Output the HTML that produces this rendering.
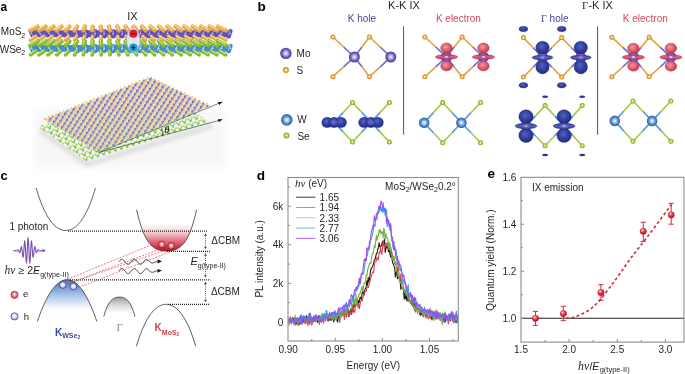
<!DOCTYPE html>
<html><head><meta charset="utf-8"><style>
html,body{margin:0;padding:0;background:#fff;}
svg{display:block;will-change:transform;}

</style></head><body>
<svg width="685" height="374" viewBox="0 0 685 374" font-family="Liberation Sans, sans-serif">
<rect width="685" height="374" fill="#fff"/>

<defs>
<clipPath id="clipd"><rect x="288.5" y="178" width="169.5" height="162.5"/></clipPath>
<clipPath id="clipcb"><rect x="130" y="222" width="80" height="40"/></clipPath>
<filter id="blurS" x="-20%" y="-50%" width="140%" height="200%"><feGaussianBlur stdDeviation="2"/></filter>
<filter id="blurB" x="-20%" y="-30%" width="140%" height="160%"><feGaussianBlur stdDeviation="3"/></filter>
<pattern id="patT" patternUnits="userSpaceOnUse" width="4.2" height="4.8" patternTransform="rotate(-57 100 110)">
<rect width="4.2" height="4.8" fill="#f8f4ec"/>
<line x1="0" y1="1.2" x2="4.2" y2="1.2" stroke="#6e60c6" stroke-width="0.95"/>
<circle cx="2.1" cy="1.2" r="1.15" fill="#6252bc"/>
<circle cx="2.0" cy="1.1" r="0.35" fill="#a49ae2"/>
<circle cx="0.4" cy="3.3" r="0.9" fill="#f0bb4c"/>
<circle cx="2.9" cy="3.6" r="0.85" fill="#f2c25c"/>
<line x1="0.4" y1="3.3" x2="2.1" y2="1.2" stroke="#e4c48c" stroke-width="0.45"/>
<circle cx="1.65" cy="2.95" r="0.45" fill="#9ccb44"/>
<circle cx="3.9" cy="2.7" r="0.4" fill="#6aaee0"/>
</pattern>
<pattern id="patB" patternUnits="userSpaceOnUse" width="6.2" height="5.2" patternTransform="rotate(-18 100 130)">
<rect width="6.2" height="5.2" fill="#f2f8e8"/>
<path d="M1.0,1.0 L3.1,3.9 L5.2,1.0" fill="none" stroke="#98c83a" stroke-width="1.15"/>
<circle cx="3.1" cy="3.9" r="0.9" fill="#4c9ad8"/>
<circle cx="1.0" cy="1.0" r="0.75" fill="#a4d040"/>
<circle cx="5.2" cy="1.0" r="0.75" fill="#a4d040"/>
</pattern>
<linearGradient id="gTint" x1="0" y1="0" x2="0" y2="1"><stop offset="0.35" stop-color="#b0d890" stop-opacity="0"/><stop offset="1" stop-color="#a8d080" stop-opacity="0.2"/></linearGradient>
</defs>


<defs>
<radialGradient id="gMo" cx="50%" cy="50%" r="50%"><stop offset="0" stop-color="#ffffff"/><stop offset="0.28" stop-color="#c8bdf0"/><stop offset="0.65" stop-color="#7a62c4"/><stop offset="1" stop-color="#4c3a98"/></radialGradient>
<radialGradient id="gS" cx="50%" cy="50%" r="50%"><stop offset="0" stop-color="#fffaf0"/><stop offset="0.25" stop-color="#fad89a"/><stop offset="0.6" stop-color="#eaa83c"/><stop offset="1" stop-color="#c88018"/></radialGradient>
<radialGradient id="gW" cx="50%" cy="50%" r="50%"><stop offset="0" stop-color="#ffffff"/><stop offset="0.28" stop-color="#b9d4f4"/><stop offset="0.65" stop-color="#4f8ad0"/><stop offset="1" stop-color="#2d5fa0"/></radialGradient>
<radialGradient id="gSe" cx="50%" cy="50%" r="50%"><stop offset="0" stop-color="#fbfff0"/><stop offset="0.25" stop-color="#d8ec9a"/><stop offset="0.6" stop-color="#a4c83c"/><stop offset="1" stop-color="#7ca018"/></radialGradient>
<radialGradient id="gRed" cx="42%" cy="40%" r="62%"><stop offset="0" stop-color="#f39aa4"/><stop offset="0.55" stop-color="#de606e"/><stop offset="1" stop-color="#c03848"/></radialGradient>
<linearGradient id="gRing" x1="0" y1="0" x2="0" y2="1"><stop offset="0" stop-color="#c03650"/><stop offset="0.5" stop-color="#de6880"/><stop offset="1" stop-color="#a82840"/></linearGradient>
<radialGradient id="gBlue" cx="45%" cy="40%" r="60%"><stop offset="0" stop-color="#5563c0"/><stop offset="0.55" stop-color="#323fa0"/><stop offset="1" stop-color="#222c80"/></radialGradient>
<linearGradient id="gBRing" x1="0" y1="0" x2="0" y2="1"><stop offset="0" stop-color="#2a3590"/><stop offset="0.5" stop-color="#5a62b8"/><stop offset="1" stop-color="#222c80"/></linearGradient>
<radialGradient id="gPtRed" cx="40%" cy="35%" r="65%"><stop offset="0" stop-color="#ffffff"/><stop offset="0.2" stop-color="#f08088"/><stop offset="0.6" stop-color="#d42a38"/><stop offset="1" stop-color="#b01a28"/></radialGradient>
<radialGradient id="gE" cx="50%" cy="45%" r="55%"><stop offset="0" stop-color="#ffffff"/><stop offset="0.3" stop-color="#f9b4bc"/><stop offset="0.75" stop-color="#e85a6a"/><stop offset="1" stop-color="#d43848"/></radialGradient>
<radialGradient id="gH" cx="50%" cy="45%" r="55%"><stop offset="0" stop-color="#ffffff"/><stop offset="0.4" stop-color="#e4e4f8"/><stop offset="1" stop-color="#9a9ad8"/></radialGradient>
<linearGradient id="gCBred" x1="0" y1="224" x2="0" y2="251" gradientUnits="userSpaceOnUse"><stop offset="0" stop-color="#ffffff"/><stop offset="0.3" stop-color="#f4d0d4"/><stop offset="0.62" stop-color="#e07482"/><stop offset="1" stop-color="#c0101e"/></linearGradient>
<linearGradient id="gVBblue" x1="0" y1="280" x2="0" y2="309" gradientUnits="userSpaceOnUse"><stop offset="0" stop-color="#4676c6"/><stop offset="0.5" stop-color="#a4c0e8"/><stop offset="1" stop-color="#ffffff"/></linearGradient>
<linearGradient id="gVBgray" x1="0" y1="297" x2="0" y2="313" gradientUnits="userSpaceOnUse"><stop offset="0" stop-color="#9c9c9c"/><stop offset="0.5" stop-color="#d8d8d8"/><stop offset="1" stop-color="#ffffff"/></linearGradient>
<marker id="ah" markerWidth="6" markerHeight="6" refX="4.5" refY="3" orient="auto" markerUnits="userSpaceOnUse"><path d="M0,1.3 L4.5,3 L0,4.7 z" fill="#222"/></marker>
</defs>

<text transform="translate(0.6,10.5) scale(0.87,1)" font-size="13.6" font-weight="bold" fill="#000">a</text>
<text transform="translate(257.5,10.6) scale(1.0,1)" font-size="13.6" font-weight="bold" fill="#000">b</text>
<text transform="translate(0.4,179.8) scale(0.95,1)" font-size="13.6" font-weight="bold" fill="#000">c</text>
<text transform="translate(256.8,179.5) scale(1.0,1)" font-size="13.6" font-weight="bold" fill="#000">d</text>
<text transform="translate(487.4,177.7) scale(1.0,1)" font-size="13.6" font-weight="bold" fill="#000">e</text>
<line x1="354.40" y1="57.00" x2="343.65" y2="47.00" stroke="#7466c0" stroke-width="1.6"/>
<line x1="343.65" y1="47.00" x2="332.90" y2="37.00" stroke="#e0a245" stroke-width="1.6"/>
<line x1="354.40" y1="57.00" x2="343.65" y2="66.85" stroke="#7466c0" stroke-width="1.6"/>
<line x1="343.65" y1="66.85" x2="332.90" y2="76.70" stroke="#e0a245" stroke-width="1.6"/>
<line x1="354.40" y1="57.00" x2="361.95" y2="47.00" stroke="#7466c0" stroke-width="1.6"/>
<line x1="361.95" y1="47.00" x2="369.50" y2="37.00" stroke="#e0a245" stroke-width="1.6"/>
<line x1="354.40" y1="57.00" x2="361.95" y2="66.85" stroke="#7466c0" stroke-width="1.6"/>
<line x1="361.95" y1="66.85" x2="369.50" y2="76.70" stroke="#e0a245" stroke-width="1.6"/>
<line x1="390.80" y1="57.00" x2="380.15" y2="47.00" stroke="#7466c0" stroke-width="1.6"/>
<line x1="380.15" y1="47.00" x2="369.50" y2="37.00" stroke="#e0a245" stroke-width="1.6"/>
<line x1="390.80" y1="57.00" x2="380.15" y2="66.85" stroke="#7466c0" stroke-width="1.6"/>
<line x1="380.15" y1="66.85" x2="369.50" y2="76.70" stroke="#e0a245" stroke-width="1.6"/>
<circle cx="332.90" cy="37.00" r="2.5" fill="url(#gS)"/>
<circle cx="332.90" cy="76.70" r="2.5" fill="url(#gS)"/>
<circle cx="369.50" cy="37.00" r="2.5" fill="url(#gS)"/>
<circle cx="369.50" cy="76.70" r="2.5" fill="url(#gS)"/>
<circle cx="354.40" cy="57.00" r="5.5" fill="url(#gMo)"/>
<circle cx="390.80" cy="57.00" r="5.5" fill="url(#gMo)"/>
<line x1="334.10" y1="122.20" x2="343.30" y2="112.35" stroke="#5a96d6" stroke-width="1.6"/>
<line x1="343.30" y1="112.35" x2="352.50" y2="102.50" stroke="#a6c94a" stroke-width="1.6"/>
<line x1="334.10" y1="122.20" x2="343.30" y2="132.10" stroke="#5a96d6" stroke-width="1.6"/>
<line x1="343.30" y1="132.10" x2="352.50" y2="142.00" stroke="#a6c94a" stroke-width="1.6"/>
<line x1="371.00" y1="122.20" x2="361.75" y2="112.35" stroke="#5a96d6" stroke-width="1.6"/>
<line x1="361.75" y1="112.35" x2="352.50" y2="102.50" stroke="#a6c94a" stroke-width="1.6"/>
<line x1="371.00" y1="122.20" x2="361.75" y2="132.10" stroke="#5a96d6" stroke-width="1.6"/>
<line x1="361.75" y1="132.10" x2="352.50" y2="142.00" stroke="#a6c94a" stroke-width="1.6"/>
<line x1="371.00" y1="122.20" x2="380.20" y2="112.35" stroke="#5a96d6" stroke-width="1.6"/>
<line x1="380.20" y1="112.35" x2="389.40" y2="102.50" stroke="#a6c94a" stroke-width="1.6"/>
<line x1="371.00" y1="122.20" x2="380.20" y2="132.10" stroke="#5a96d6" stroke-width="1.6"/>
<line x1="380.20" y1="132.10" x2="389.40" y2="142.00" stroke="#a6c94a" stroke-width="1.6"/>
<circle cx="352.50" cy="102.50" r="2.5" fill="url(#gSe)"/>
<circle cx="352.50" cy="142.00" r="2.5" fill="url(#gSe)"/>
<circle cx="389.40" cy="102.50" r="2.5" fill="url(#gSe)"/>
<circle cx="389.40" cy="142.00" r="2.5" fill="url(#gSe)"/>
<ellipse cx="327.30" cy="122.4" rx="5.8" ry="5.4" fill="url(#gBlue)"/>
<ellipse cx="334.10" cy="122.4" rx="5.8" ry="5.4" fill="url(#gBlue)"/>
<ellipse cx="340.90" cy="122.4" rx="5.8" ry="5.4" fill="url(#gBlue)"/>
<ellipse cx="334.10" cy="122.4" rx="3" ry="2.2" fill="#6a70c8" opacity="0.7"/>
<ellipse cx="364.20" cy="122.4" rx="5.8" ry="5.4" fill="url(#gBlue)"/>
<ellipse cx="371.00" cy="122.4" rx="5.8" ry="5.4" fill="url(#gBlue)"/>
<ellipse cx="377.80" cy="122.4" rx="5.8" ry="5.4" fill="url(#gBlue)"/>
<ellipse cx="371.00" cy="122.4" rx="3" ry="2.2" fill="#6a70c8" opacity="0.7"/>
<line x1="446.50" y1="57.00" x2="435.70" y2="47.00" stroke="#7466c0" stroke-width="1.6"/>
<line x1="435.70" y1="47.00" x2="424.90" y2="37.00" stroke="#e0a245" stroke-width="1.6"/>
<line x1="446.50" y1="57.00" x2="435.70" y2="66.90" stroke="#7466c0" stroke-width="1.6"/>
<line x1="435.70" y1="66.90" x2="424.90" y2="76.80" stroke="#e0a245" stroke-width="1.6"/>
<line x1="446.50" y1="57.00" x2="454.30" y2="47.00" stroke="#7466c0" stroke-width="1.6"/>
<line x1="454.30" y1="47.00" x2="462.10" y2="37.00" stroke="#e0a245" stroke-width="1.6"/>
<line x1="446.50" y1="57.00" x2="454.30" y2="66.90" stroke="#7466c0" stroke-width="1.6"/>
<line x1="454.30" y1="66.90" x2="462.10" y2="76.80" stroke="#e0a245" stroke-width="1.6"/>
<line x1="483.40" y1="57.00" x2="472.75" y2="47.00" stroke="#7466c0" stroke-width="1.6"/>
<line x1="472.75" y1="47.00" x2="462.10" y2="37.00" stroke="#e0a245" stroke-width="1.6"/>
<line x1="483.40" y1="57.00" x2="472.75" y2="66.90" stroke="#7466c0" stroke-width="1.6"/>
<line x1="472.75" y1="66.90" x2="462.10" y2="76.80" stroke="#e0a245" stroke-width="1.6"/>
<circle cx="424.90" cy="37.00" r="2.5" fill="url(#gS)"/>
<circle cx="424.90" cy="76.80" r="2.5" fill="url(#gS)"/>
<circle cx="462.10" cy="37.00" r="2.5" fill="url(#gS)"/>
<circle cx="462.10" cy="76.80" r="2.5" fill="url(#gS)"/>
<circle cx="446.50" cy="57.00" r="5.5" fill="url(#gMo)"/>
<circle cx="483.40" cy="57.00" r="5.5" fill="url(#gMo)"/>
<ellipse cx="446.50" cy="48.00" rx="5.8" ry="4.95" fill="url(#gRed)" stroke="#a82a3a" stroke-width="0.4"/>
<ellipse cx="446.50" cy="66.00" rx="5.8" ry="4.95" fill="url(#gRed)" stroke="#a82a3a" stroke-width="0.4"/>
<ellipse cx="446.50" cy="57.00" rx="11.2" ry="2.45" fill="url(#gRing)" stroke="#a82a3a" stroke-width="0.4"/>
<ellipse cx="446.50" cy="57.00" rx="4.26" ry="2.33" fill="#8a58c0" opacity="0.5"/>
<ellipse cx="446.50" cy="57.00" rx="1.79" ry="1.10" fill="#fad0d8" opacity="0.85"/>
<ellipse cx="483.40" cy="48.00" rx="5.8" ry="4.95" fill="url(#gRed)" stroke="#a82a3a" stroke-width="0.4"/>
<ellipse cx="483.40" cy="66.00" rx="5.8" ry="4.95" fill="url(#gRed)" stroke="#a82a3a" stroke-width="0.4"/>
<ellipse cx="483.40" cy="57.00" rx="11.2" ry="2.45" fill="url(#gRing)" stroke="#a82a3a" stroke-width="0.4"/>
<ellipse cx="483.40" cy="57.00" rx="4.26" ry="2.33" fill="#8a58c0" opacity="0.5"/>
<ellipse cx="483.40" cy="57.00" rx="1.79" ry="1.10" fill="#fad0d8" opacity="0.85"/>
<line x1="424.20" y1="122.70" x2="433.45" y2="112.60" stroke="#5a96d6" stroke-width="1.6"/>
<line x1="433.45" y1="112.60" x2="442.70" y2="102.50" stroke="#a6c94a" stroke-width="1.6"/>
<line x1="424.20" y1="122.70" x2="433.45" y2="132.75" stroke="#5a96d6" stroke-width="1.6"/>
<line x1="433.45" y1="132.75" x2="442.70" y2="142.80" stroke="#a6c94a" stroke-width="1.6"/>
<line x1="461.40" y1="122.70" x2="452.05" y2="112.60" stroke="#5a96d6" stroke-width="1.6"/>
<line x1="452.05" y1="112.60" x2="442.70" y2="102.50" stroke="#a6c94a" stroke-width="1.6"/>
<line x1="461.40" y1="122.70" x2="452.05" y2="132.75" stroke="#5a96d6" stroke-width="1.6"/>
<line x1="452.05" y1="132.75" x2="442.70" y2="142.80" stroke="#a6c94a" stroke-width="1.6"/>
<line x1="461.40" y1="122.70" x2="471.00" y2="112.60" stroke="#5a96d6" stroke-width="1.6"/>
<line x1="471.00" y1="112.60" x2="480.60" y2="102.50" stroke="#a6c94a" stroke-width="1.6"/>
<line x1="461.40" y1="122.70" x2="471.00" y2="132.75" stroke="#5a96d6" stroke-width="1.6"/>
<line x1="471.00" y1="132.75" x2="480.60" y2="142.80" stroke="#a6c94a" stroke-width="1.6"/>
<circle cx="442.70" cy="102.50" r="2.5" fill="url(#gSe)"/>
<circle cx="442.70" cy="142.80" r="2.5" fill="url(#gSe)"/>
<circle cx="480.60" cy="102.50" r="2.5" fill="url(#gSe)"/>
<circle cx="480.60" cy="142.80" r="2.5" fill="url(#gSe)"/>
<circle cx="424.20" cy="122.70" r="5.3" fill="url(#gW)"/>
<circle cx="461.40" cy="122.70" r="5.3" fill="url(#gW)"/>
<line x1="542.50" y1="57.50" x2="532.95" y2="47.55" stroke="#7466c0" stroke-width="1.6"/>
<line x1="532.95" y1="47.55" x2="523.40" y2="37.60" stroke="#e0a245" stroke-width="1.6"/>
<line x1="542.50" y1="57.50" x2="532.95" y2="67.30" stroke="#7466c0" stroke-width="1.6"/>
<line x1="532.95" y1="67.30" x2="523.40" y2="77.10" stroke="#e0a245" stroke-width="1.6"/>
<line x1="542.50" y1="57.50" x2="552.10" y2="47.55" stroke="#7466c0" stroke-width="1.6"/>
<line x1="552.10" y1="47.55" x2="561.70" y2="37.60" stroke="#e0a245" stroke-width="1.6"/>
<line x1="542.50" y1="57.50" x2="552.10" y2="67.30" stroke="#7466c0" stroke-width="1.6"/>
<line x1="552.10" y1="67.30" x2="561.70" y2="77.10" stroke="#e0a245" stroke-width="1.6"/>
<line x1="580.80" y1="57.50" x2="571.25" y2="47.55" stroke="#7466c0" stroke-width="1.6"/>
<line x1="571.25" y1="47.55" x2="561.70" y2="37.60" stroke="#e0a245" stroke-width="1.6"/>
<line x1="580.80" y1="57.50" x2="571.25" y2="67.30" stroke="#7466c0" stroke-width="1.6"/>
<line x1="571.25" y1="67.30" x2="561.70" y2="77.10" stroke="#e0a245" stroke-width="1.6"/>
<circle cx="523.40" cy="37.60" r="2.5" fill="url(#gS)"/>
<circle cx="523.40" cy="77.10" r="2.5" fill="url(#gS)"/>
<circle cx="561.70" cy="37.60" r="2.5" fill="url(#gS)"/>
<circle cx="561.70" cy="77.10" r="2.5" fill="url(#gS)"/>
<circle cx="542.50" cy="57.50" r="5.5" fill="url(#gMo)"/>
<circle cx="580.80" cy="57.50" r="5.5" fill="url(#gMo)"/>
<ellipse cx="542.50" cy="47.60" rx="6.7" ry="6.4" fill="url(#gBlue)" stroke="#1e2678" stroke-width="0.4"/>
<ellipse cx="542.50" cy="66.90" rx="6.7" ry="7.0" fill="url(#gBlue)" stroke="#1e2678" stroke-width="0.4"/>
<ellipse cx="542.50" cy="57.50" rx="10.5" ry="2.3" fill="url(#gBRing)" stroke="#1e2678" stroke-width="0.4"/>
<ellipse cx="542.50" cy="57.50" rx="3.99" ry="2.18" fill="#7a70cc" opacity="0.5"/>
<ellipse cx="542.50" cy="57.50" rx="1.68" ry="1.03" fill="#a8a4e0" opacity="0.85"/>
<ellipse cx="580.80" cy="47.60" rx="6.7" ry="6.4" fill="url(#gBlue)" stroke="#1e2678" stroke-width="0.4"/>
<ellipse cx="580.80" cy="66.90" rx="6.7" ry="7.0" fill="url(#gBlue)" stroke="#1e2678" stroke-width="0.4"/>
<ellipse cx="580.80" cy="57.50" rx="10.5" ry="2.3" fill="url(#gBRing)" stroke="#1e2678" stroke-width="0.4"/>
<ellipse cx="580.80" cy="57.50" rx="3.99" ry="2.18" fill="#7a70cc" opacity="0.5"/>
<ellipse cx="580.80" cy="57.50" rx="1.68" ry="1.03" fill="#a8a4e0" opacity="0.85"/>
<ellipse cx="523.40" cy="29.0" rx="4.4" ry="2.7" fill="url(#gBlue)" stroke="#1e2678" stroke-width="0.3"/>
<ellipse cx="523.40" cy="85.3" rx="4.4" ry="2.7" fill="url(#gBlue)" stroke="#1e2678" stroke-width="0.3"/>
<ellipse cx="561.70" cy="29.0" rx="4.4" ry="2.7" fill="url(#gBlue)" stroke="#1e2678" stroke-width="0.3"/>
<ellipse cx="561.70" cy="85.3" rx="4.4" ry="2.7" fill="url(#gBlue)" stroke="#1e2678" stroke-width="0.3"/>
<line x1="526.00" y1="126.10" x2="535.55" y2="115.85" stroke="#5a96d6" stroke-width="1.6"/>
<line x1="535.55" y1="115.85" x2="545.10" y2="105.60" stroke="#a6c94a" stroke-width="1.6"/>
<line x1="526.00" y1="126.10" x2="535.55" y2="135.90" stroke="#5a96d6" stroke-width="1.6"/>
<line x1="535.55" y1="135.90" x2="545.10" y2="145.70" stroke="#a6c94a" stroke-width="1.6"/>
<line x1="564.10" y1="126.10" x2="554.60" y2="115.85" stroke="#5a96d6" stroke-width="1.6"/>
<line x1="554.60" y1="115.85" x2="545.10" y2="105.60" stroke="#a6c94a" stroke-width="1.6"/>
<line x1="564.10" y1="126.10" x2="554.60" y2="135.90" stroke="#5a96d6" stroke-width="1.6"/>
<line x1="554.60" y1="135.90" x2="545.10" y2="145.70" stroke="#a6c94a" stroke-width="1.6"/>
<line x1="564.10" y1="126.10" x2="573.15" y2="115.85" stroke="#5a96d6" stroke-width="1.6"/>
<line x1="573.15" y1="115.85" x2="582.20" y2="105.60" stroke="#a6c94a" stroke-width="1.6"/>
<line x1="564.10" y1="126.10" x2="573.15" y2="135.90" stroke="#5a96d6" stroke-width="1.6"/>
<line x1="573.15" y1="135.90" x2="582.20" y2="145.70" stroke="#a6c94a" stroke-width="1.6"/>
<circle cx="545.10" cy="105.60" r="2.5" fill="url(#gSe)"/>
<circle cx="545.10" cy="145.70" r="2.5" fill="url(#gSe)"/>
<circle cx="582.20" cy="105.60" r="2.5" fill="url(#gSe)"/>
<circle cx="582.20" cy="145.70" r="2.5" fill="url(#gSe)"/>
<circle cx="526.00" cy="126.10" r="5.3" fill="url(#gW)"/>
<circle cx="564.10" cy="126.10" r="5.3" fill="url(#gW)"/>
<ellipse cx="526.00" cy="116.70" rx="7.2" ry="6.9" fill="url(#gBlue)" stroke="#1e2678" stroke-width="0.4"/>
<ellipse cx="526.00" cy="135.50" rx="7.2" ry="6.9" fill="url(#gBlue)" stroke="#1e2678" stroke-width="0.4"/>
<ellipse cx="526.00" cy="126.10" rx="11.0" ry="2.8" fill="url(#gBRing)" stroke="#1e2678" stroke-width="0.4"/>
<ellipse cx="526.00" cy="126.10" rx="4.18" ry="2.66" fill="#7a70cc" opacity="0.5"/>
<ellipse cx="526.00" cy="126.10" rx="1.76" ry="1.26" fill="#a8a4e0" opacity="0.85"/>
<ellipse cx="564.10" cy="116.70" rx="7.2" ry="6.9" fill="url(#gBlue)" stroke="#1e2678" stroke-width="0.4"/>
<ellipse cx="564.10" cy="135.50" rx="7.2" ry="6.9" fill="url(#gBlue)" stroke="#1e2678" stroke-width="0.4"/>
<ellipse cx="564.10" cy="126.10" rx="11.0" ry="2.8" fill="url(#gBRing)" stroke="#1e2678" stroke-width="0.4"/>
<ellipse cx="564.10" cy="126.10" rx="4.18" ry="2.66" fill="#7a70cc" opacity="0.5"/>
<ellipse cx="564.10" cy="126.10" rx="1.76" ry="1.26" fill="#a8a4e0" opacity="0.85"/>
<ellipse cx="545.1" cy="96.8" rx="3" ry="1.3" fill="#2f3a98"/>
<ellipse cx="545.1" cy="155.0" rx="3" ry="1.3" fill="#2f3a98"/>
<ellipse cx="582.2" cy="96.8" rx="3" ry="1.3" fill="#2f3a98"/>
<ellipse cx="582.2" cy="155.0" rx="3" ry="1.3" fill="#2f3a98"/>
<line x1="633.40" y1="57.20" x2="622.60" y2="47.20" stroke="#7466c0" stroke-width="1.6"/>
<line x1="622.60" y1="47.20" x2="611.80" y2="37.20" stroke="#e0a245" stroke-width="1.6"/>
<line x1="633.40" y1="57.20" x2="622.60" y2="67.00" stroke="#7466c0" stroke-width="1.6"/>
<line x1="622.60" y1="67.00" x2="611.80" y2="76.80" stroke="#e0a245" stroke-width="1.6"/>
<line x1="633.40" y1="57.20" x2="641.30" y2="47.20" stroke="#7466c0" stroke-width="1.6"/>
<line x1="641.30" y1="47.20" x2="649.20" y2="37.20" stroke="#e0a245" stroke-width="1.6"/>
<line x1="633.40" y1="57.20" x2="641.30" y2="67.00" stroke="#7466c0" stroke-width="1.6"/>
<line x1="641.30" y1="67.00" x2="649.20" y2="76.80" stroke="#e0a245" stroke-width="1.6"/>
<line x1="670.90" y1="57.20" x2="660.05" y2="47.20" stroke="#7466c0" stroke-width="1.6"/>
<line x1="660.05" y1="47.20" x2="649.20" y2="37.20" stroke="#e0a245" stroke-width="1.6"/>
<line x1="670.90" y1="57.20" x2="660.05" y2="67.00" stroke="#7466c0" stroke-width="1.6"/>
<line x1="660.05" y1="67.00" x2="649.20" y2="76.80" stroke="#e0a245" stroke-width="1.6"/>
<circle cx="611.80" cy="37.20" r="2.5" fill="url(#gS)"/>
<circle cx="611.80" cy="76.80" r="2.5" fill="url(#gS)"/>
<circle cx="649.20" cy="37.20" r="2.5" fill="url(#gS)"/>
<circle cx="649.20" cy="76.80" r="2.5" fill="url(#gS)"/>
<circle cx="633.40" cy="57.20" r="5.5" fill="url(#gMo)"/>
<circle cx="670.90" cy="57.20" r="5.5" fill="url(#gMo)"/>
<ellipse cx="633.40" cy="48.20" rx="5.8" ry="4.95" fill="url(#gRed)" stroke="#a82a3a" stroke-width="0.4"/>
<ellipse cx="633.40" cy="66.20" rx="5.8" ry="4.95" fill="url(#gRed)" stroke="#a82a3a" stroke-width="0.4"/>
<ellipse cx="633.40" cy="57.20" rx="11.2" ry="2.45" fill="url(#gRing)" stroke="#a82a3a" stroke-width="0.4"/>
<ellipse cx="633.40" cy="57.20" rx="4.26" ry="2.33" fill="#8a58c0" opacity="0.5"/>
<ellipse cx="633.40" cy="57.20" rx="1.79" ry="1.10" fill="#fad0d8" opacity="0.85"/>
<ellipse cx="670.90" cy="48.20" rx="5.8" ry="4.95" fill="url(#gRed)" stroke="#a82a3a" stroke-width="0.4"/>
<ellipse cx="670.90" cy="66.20" rx="5.8" ry="4.95" fill="url(#gRed)" stroke="#a82a3a" stroke-width="0.4"/>
<ellipse cx="670.90" cy="57.20" rx="11.2" ry="2.45" fill="url(#gRing)" stroke="#a82a3a" stroke-width="0.4"/>
<ellipse cx="670.90" cy="57.20" rx="4.26" ry="2.33" fill="#8a58c0" opacity="0.5"/>
<ellipse cx="670.90" cy="57.20" rx="1.79" ry="1.10" fill="#fad0d8" opacity="0.85"/>
<line x1="614.80" y1="120.90" x2="623.90" y2="110.95" stroke="#5a96d6" stroke-width="1.6"/>
<line x1="623.90" y1="110.95" x2="633.00" y2="101.00" stroke="#a6c94a" stroke-width="1.6"/>
<line x1="614.80" y1="120.90" x2="623.90" y2="131.10" stroke="#5a96d6" stroke-width="1.6"/>
<line x1="623.90" y1="131.10" x2="633.00" y2="141.30" stroke="#a6c94a" stroke-width="1.6"/>
<line x1="652.10" y1="120.90" x2="642.55" y2="110.95" stroke="#5a96d6" stroke-width="1.6"/>
<line x1="642.55" y1="110.95" x2="633.00" y2="101.00" stroke="#a6c94a" stroke-width="1.6"/>
<line x1="652.10" y1="120.90" x2="642.55" y2="131.10" stroke="#5a96d6" stroke-width="1.6"/>
<line x1="642.55" y1="131.10" x2="633.00" y2="141.30" stroke="#a6c94a" stroke-width="1.6"/>
<line x1="652.10" y1="120.90" x2="661.50" y2="110.95" stroke="#5a96d6" stroke-width="1.6"/>
<line x1="661.50" y1="110.95" x2="670.90" y2="101.00" stroke="#a6c94a" stroke-width="1.6"/>
<line x1="652.10" y1="120.90" x2="661.50" y2="131.10" stroke="#5a96d6" stroke-width="1.6"/>
<line x1="661.50" y1="131.10" x2="670.90" y2="141.30" stroke="#a6c94a" stroke-width="1.6"/>
<circle cx="633.00" cy="101.00" r="2.5" fill="url(#gSe)"/>
<circle cx="633.00" cy="141.30" r="2.5" fill="url(#gSe)"/>
<circle cx="670.90" cy="101.00" r="2.5" fill="url(#gSe)"/>
<circle cx="670.90" cy="141.30" r="2.5" fill="url(#gSe)"/>
<circle cx="614.80" cy="120.90" r="5.3" fill="url(#gW)"/>
<circle cx="652.10" cy="120.90" r="5.3" fill="url(#gW)"/>
<line x1="403.6" y1="26.3" x2="403.6" y2="134.7" stroke="#555" stroke-width="1"/>
<line x1="597.6" y1="26.3" x2="597.6" y2="134.7" stroke="#555" stroke-width="1"/>
<text x="404" y="9.2" font-size="11" text-anchor="middle" fill="#231f20" >K-K IX</text>
<text x="597.5" y="9.4" font-size="11" text-anchor="middle" fill="#231f20"><tspan font-family="Liberation Serif, serif">Γ</tspan>-K IX</text>
<text x="362" y="21.8" font-size="10" text-anchor="middle" fill="#4448a0" >K hole</text>
<text x="458.4" y="21.9" font-size="10" text-anchor="middle" fill="#d0485a" >K electron</text>
<text x="554.8" y="21.9" font-size="10" text-anchor="middle" fill="#4448a0"><tspan font-family="Liberation Serif, serif">Γ</tspan> hole</text>
<text x="645.3" y="21.9" font-size="10" text-anchor="middle" fill="#d0485a" >K electron</text>
<circle cx="285.90" cy="53.40" r="5.7" fill="url(#gMo)"/>
<text x="296.6" y="56.9" font-size="10" text-anchor="start" fill="#231f20" >Mo</text>
<circle cx="285.90" cy="70.10" r="3.0" fill="url(#gS)"/>
<text x="296.6" y="74.3" font-size="10" text-anchor="start" fill="#231f20" >S</text>
<circle cx="286.80" cy="119.90" r="5.8" fill="url(#gW)"/>
<text x="297.2" y="122.9" font-size="10" text-anchor="start" fill="#231f20" >W</text>
<circle cx="286.50" cy="135.40" r="3.0" fill="url(#gSe)"/>
<text x="297.4" y="139.5" font-size="10" text-anchor="start" fill="#231f20" >Se</text>
<g clip-path="url(#clipd)">
<path d="M288.2,321.3 L288.9,319.5 L289.6,321.2 L290.2,321.3 L290.9,322.7 L291.6,321.0 L292.3,317.9 L292.9,319.5 L293.6,318.1 L294.3,319.9 L295.0,319.5 L295.7,319.9 L296.3,324.2 L297.0,318.3 L297.7,319.1 L298.4,319.1 L299.1,324.2 L299.7,324.3 L300.4,322.2 L301.1,321.2 L301.8,319.4 L302.4,320.2 L303.1,318.8 L303.8,321.5 L304.5,319.2 L305.2,319.0 L305.8,321.4 L306.5,315.8 L307.2,318.5 L307.9,317.0 L308.5,321.1 L309.2,321.4 L309.9,320.4 L310.6,319.8 L311.3,318.0 L311.9,318.9 L312.6,320.5 L313.3,321.6 L314.0,320.5 L314.7,316.4 L315.3,321.1 L316.0,318.6 L316.7,318.1 L317.4,322.5 L318.0,318.9 L318.7,315.9 L319.4,323.6 L320.1,319.6 L320.8,319.0 L321.4,320.6 L322.1,317.4 L322.8,318.7 L323.5,321.9 L324.1,316.4 L324.8,316.7 L325.5,316.0 L326.2,314.8 L326.9,317.2 L327.5,317.7 L328.2,320.9 L328.9,316.3 L329.6,319.1 L330.3,318.6 L330.9,320.4 L331.6,319.6 L332.3,318.5 L333.0,314.1 L333.6,321.8 L334.3,320.3 L335.0,316.2 L335.7,313.2 L336.4,315.1 L337.0,320.8 L337.7,322.1 L338.4,315.1 L339.1,317.6 L339.7,318.3 L340.4,313.1 L341.1,312.6 L341.8,314.7 L342.5,314.2 L343.1,313.5 L343.8,310.5 L344.5,312.6 L345.2,312.5 L345.9,312.1 L346.5,316.9 L347.2,309.7 L347.9,310.1 L348.6,310.8 L349.2,316.3 L349.9,312.7 L350.6,308.7 L351.3,314.5 L352.0,310.1 L352.6,306.6 L353.3,311.6 L354.0,303.9 L354.7,305.7 L355.3,306.7 L356.0,304.7 L356.7,303.1 L357.4,303.5 L358.1,300.0 L358.7,303.4 L359.4,301.7 L360.1,297.0 L360.8,298.3 L361.4,299.3 L362.1,293.3 L362.8,290.6 L363.5,294.0 L364.2,294.8 L364.8,290.0 L365.5,288.4 L366.2,287.0 L366.9,280.8 L367.6,285.3 L368.2,277.3 L368.9,282.0 L369.6,278.7 L370.3,272.8 L370.9,269.3 L371.6,267.8 L372.3,267.1 L373.0,265.4 L373.7,263.2 L374.3,259.8 L375.0,259.8 L375.7,256.5 L376.4,253.6 L377.0,253.3 L377.7,249.3 L378.4,248.2 L379.1,242.6 L379.8,246.1 L380.4,247.2 L381.1,246.2 L381.8,244.5 L382.5,241.4 L383.2,244.9 L383.8,242.9 L384.5,239.0 L385.2,252.4 L385.9,249.0 L386.5,245.9 L387.2,246.6 L387.9,248.4 L388.6,251.8 L389.3,250.3 L389.9,253.0 L390.6,257.1 L391.3,250.7 L392.0,258.5 L392.6,263.0 L393.3,263.8 L394.0,266.1 L394.7,267.7 L395.4,277.0 L396.0,272.9 L396.7,270.9 L397.4,278.7 L398.1,277.6 L398.8,276.8 L399.4,278.9 L400.1,279.0 L400.8,289.1 L401.5,287.3 L402.1,288.8 L402.8,287.9 L403.5,288.2 L404.2,299.3 L404.9,291.0 L405.5,298.8 L406.2,294.6 L406.9,301.3 L407.6,298.3 L408.2,296.8 L408.9,301.2 L409.6,301.3 L410.3,300.7 L411.0,303.2 L411.6,304.6 L412.3,301.4 L413.0,303.3 L413.7,307.3 L414.4,300.5 L415.0,310.6 L415.7,306.2 L416.4,309.6 L417.1,309.1 L417.7,308.2 L418.4,309.8 L419.1,309.2 L419.8,314.8 L420.5,315.1 L421.1,310.4 L421.8,314.5 L422.5,314.9 L423.2,316.3 L423.8,310.0 L424.5,311.5 L425.2,310.0 L425.9,316.0 L426.6,314.0 L427.2,316.9 L427.9,312.6 L428.6,310.8 L429.3,316.8 L430.0,311.2 L430.6,312.7 L431.3,315.6 L432.0,320.0 L432.7,312.1 L433.3,315.8 L434.0,317.1 L434.7,314.9 L435.4,315.0 L436.1,312.5 L436.7,318.5 L437.4,313.6 L438.1,312.8 L438.8,313.0 L439.4,316.9 L440.1,318.4 L440.8,314.3 L441.5,316.5 L442.2,316.5 L442.8,313.6 L443.5,317.6 L444.2,322.4 L444.9,318.0 L445.6,321.5 L446.2,315.3 L446.9,316.6 L447.6,318.8 L448.3,317.4 L448.9,315.5 L449.6,317.3 L450.3,314.5 L451.0,317.8 L451.7,315.2 L452.3,314.2 L453.0,314.0 L453.7,319.4 L454.4,315.8 L455.0,322.3 L455.7,320.5 L456.4,322.5 L457.1,315.5 L457.8,320.9 L458.4,318.1 L459.1,318.6" fill="none" stroke="#1a1a1a" stroke-width="1.1" stroke-linejoin="round"/>
<path d="M288.2,321.2 L288.9,322.5 L289.6,320.5 L290.2,316.9 L290.9,320.9 L291.6,319.7 L292.3,318.6 L292.9,321.4 L293.6,323.8 L294.3,322.2 L295.0,318.3 L295.7,324.7 L296.3,322.2 L297.0,318.4 L297.7,318.9 L298.4,320.7 L299.1,318.8 L299.7,320.3 L300.4,323.4 L301.1,324.2 L301.8,322.0 L302.4,318.4 L303.1,321.8 L303.8,322.5 L304.5,322.2 L305.2,323.9 L305.8,320.6 L306.5,323.0 L307.2,319.4 L307.9,325.7 L308.5,319.4 L309.2,321.6 L309.9,324.6 L310.6,318.4 L311.3,320.6 L311.9,325.2 L312.6,322.0 L313.3,319.2 L314.0,320.9 L314.7,317.9 L315.3,318.0 L316.0,318.1 L316.7,318.8 L317.4,316.4 L318.0,318.0 L318.7,318.4 L319.4,324.3 L320.1,317.2 L320.8,316.2 L321.4,319.9 L322.1,320.2 L322.8,314.5 L323.5,323.1 L324.1,317.8 L324.8,313.2 L325.5,320.9 L326.2,317.1 L326.9,314.2 L327.5,318.8 L328.2,317.1 L328.9,316.2 L329.6,320.4 L330.3,318.4 L330.9,317.4 L331.6,316.0 L332.3,318.0 L333.0,318.2 L333.6,320.0 L334.3,318.4 L335.0,315.3 L335.7,317.1 L336.4,319.2 L337.0,319.0 L337.7,310.6 L338.4,314.1 L339.1,315.1 L339.7,322.5 L340.4,314.8 L341.1,314.9 L341.8,311.9 L342.5,314.7 L343.1,315.6 L343.8,314.0 L344.5,319.6 L345.2,312.3 L345.9,313.7 L346.5,315.9 L347.2,310.8 L347.9,309.3 L348.6,316.6 L349.2,314.5 L349.9,311.8 L350.6,311.7 L351.3,312.6 L352.0,313.6 L352.6,305.6 L353.3,307.7 L354.0,312.5 L354.7,312.3 L355.3,304.3 L356.0,305.3 L356.7,302.5 L357.4,304.2 L358.1,307.5 L358.7,303.8 L359.4,308.8 L360.1,304.4 L360.8,301.6 L361.4,299.0 L362.1,301.0 L362.8,298.2 L363.5,295.4 L364.2,294.3 L364.8,292.1 L365.5,291.7 L366.2,291.5 L366.9,287.0 L367.6,287.1 L368.2,287.6 L368.9,285.3 L369.6,281.7 L370.3,280.0 L370.9,277.3 L371.6,275.6 L372.3,273.0 L373.0,271.7 L373.7,272.6 L374.3,265.8 L375.0,261.9 L375.7,261.4 L376.4,261.0 L377.0,257.1 L377.7,259.1 L378.4,259.8 L379.1,252.4 L379.8,253.5 L380.4,247.1 L381.1,251.0 L381.8,254.4 L382.5,248.8 L383.2,240.4 L383.8,245.7 L384.5,248.3 L385.2,246.6 L385.9,243.1 L386.5,243.6 L387.2,245.2 L387.9,242.3 L388.6,245.7 L389.3,249.0 L389.9,248.7 L390.6,247.2 L391.3,250.8 L392.0,252.5 L392.6,260.3 L393.3,259.6 L394.0,259.1 L394.7,263.9 L395.4,262.2 L396.0,265.5 L396.7,266.7 L397.4,271.8 L398.1,266.4 L398.8,271.9 L399.4,277.7 L400.1,278.8 L400.8,274.0 L401.5,283.6 L402.1,282.1 L402.8,283.6 L403.5,287.7 L404.2,292.3 L404.9,290.4 L405.5,291.4 L406.2,290.8 L406.9,293.0 L407.6,296.2 L408.2,295.4 L408.9,297.3 L409.6,299.2 L410.3,300.7 L411.0,302.4 L411.6,301.0 L412.3,306.2 L413.0,306.0 L413.7,305.2 L414.4,309.6 L415.0,307.7 L415.7,312.2 L416.4,309.6 L417.1,307.2 L417.7,307.7 L418.4,309.7 L419.1,310.7 L419.8,314.0 L420.5,306.6 L421.1,310.1 L421.8,309.1 L422.5,314.2 L423.2,312.9 L423.8,317.1 L424.5,311.2 L425.2,311.1 L425.9,318.1 L426.6,313.9 L427.2,312.6 L427.9,318.5 L428.6,318.8 L429.3,317.2 L430.0,316.3 L430.6,318.4 L431.3,315.1 L432.0,314.8 L432.7,314.0 L433.3,314.0 L434.0,312.2 L434.7,313.2 L435.4,319.1 L436.1,317.3 L436.7,318.8 L437.4,318.9 L438.1,316.7 L438.8,316.6 L439.4,315.5 L440.1,320.5 L440.8,319.8 L441.5,317.0 L442.2,317.5 L442.8,317.8 L443.5,317.3 L444.2,319.0 L444.9,315.7 L445.6,316.6 L446.2,317.7 L446.9,319.1 L447.6,318.0 L448.3,324.0 L448.9,320.0 L449.6,317.7 L450.3,321.3 L451.0,317.4 L451.7,317.6 L452.3,321.2 L453.0,318.6 L453.7,318.8 L454.4,317.0 L455.0,316.7 L455.7,318.3 L456.4,320.2 L457.1,318.6 L457.8,318.5 L458.4,316.6 L459.1,317.7" fill="none" stroke="#e0404c" stroke-width="1.1" stroke-linejoin="round"/>
<path d="M288.2,322.5 L288.9,323.9 L289.6,321.6 L290.2,322.4 L290.9,323.2 L291.6,320.9 L292.3,321.7 L292.9,320.3 L293.6,319.3 L294.3,321.4 L295.0,315.0 L295.7,321.2 L296.3,317.8 L297.0,320.1 L297.7,317.7 L298.4,325.8 L299.1,322.0 L299.7,319.6 L300.4,318.7 L301.1,314.7 L301.8,319.3 L302.4,317.0 L303.1,318.2 L303.8,317.7 L304.5,318.7 L305.2,320.2 L305.8,318.6 L306.5,322.3 L307.2,316.9 L307.9,322.0 L308.5,319.0 L309.2,314.6 L309.9,320.0 L310.6,319.4 L311.3,316.7 L311.9,319.3 L312.6,321.2 L313.3,318.6 L314.0,317.8 L314.7,317.4 L315.3,320.8 L316.0,314.8 L316.7,315.0 L317.4,318.8 L318.0,318.1 L318.7,319.7 L319.4,315.3 L320.1,320.2 L320.8,316.8 L321.4,319.5 L322.1,319.9 L322.8,316.5 L323.5,314.9 L324.1,318.0 L324.8,319.5 L325.5,315.9 L326.2,317.8 L326.9,316.8 L327.5,313.9 L328.2,314.7 L328.9,318.5 L329.6,311.7 L330.3,317.0 L330.9,315.0 L331.6,318.2 L332.3,316.7 L333.0,320.5 L333.6,312.0 L334.3,312.9 L335.0,318.8 L335.7,319.3 L336.4,319.4 L337.0,312.6 L337.7,316.3 L338.4,315.1 L339.1,315.5 L339.7,314.8 L340.4,316.8 L341.1,313.9 L341.8,317.1 L342.5,313.6 L343.1,312.3 L343.8,311.6 L344.5,312.9 L345.2,314.2 L345.9,311.2 L346.5,312.3 L347.2,306.9 L347.9,308.3 L348.6,310.0 L349.2,310.3 L349.9,310.2 L350.6,310.2 L351.3,308.1 L352.0,305.8 L352.6,304.4 L353.3,303.5 L354.0,298.8 L354.7,304.8 L355.3,302.0 L356.0,294.1 L356.7,304.5 L357.4,300.0 L358.1,297.0 L358.7,295.7 L359.4,293.7 L360.1,293.8 L360.8,290.8 L361.4,289.9 L362.1,286.4 L362.8,291.5 L363.5,287.0 L364.2,282.8 L364.8,283.5 L365.5,281.4 L366.2,274.8 L366.9,276.0 L367.6,270.2 L368.2,267.6 L368.9,266.4 L369.6,263.3 L370.3,262.6 L370.9,263.7 L371.6,257.3 L372.3,253.4 L373.0,253.8 L373.7,250.1 L374.3,245.2 L375.0,247.7 L375.7,241.0 L376.4,235.3 L377.0,240.5 L377.7,236.7 L378.4,236.1 L379.1,229.7 L379.8,232.3 L380.4,229.8 L381.1,234.1 L381.8,231.8 L382.5,231.9 L383.2,237.6 L383.8,228.4 L384.5,230.9 L385.2,239.9 L385.9,233.7 L386.5,237.7 L387.2,237.6 L387.9,239.7 L388.6,247.1 L389.3,245.4 L389.9,242.5 L390.6,250.7 L391.3,254.3 L392.0,257.5 L392.6,259.5 L393.3,257.4 L394.0,255.9 L394.7,261.8 L395.4,264.6 L396.0,261.4 L396.7,271.2 L397.4,273.8 L398.1,272.7 L398.8,274.7 L399.4,280.9 L400.1,283.2 L400.8,281.2 L401.5,283.2 L402.1,289.0 L402.8,287.8 L403.5,290.3 L404.2,289.3 L404.9,292.2 L405.5,293.5 L406.2,295.6 L406.9,293.3 L407.6,293.7 L408.2,299.2 L408.9,297.3 L409.6,302.3 L410.3,301.2 L411.0,300.5 L411.6,299.5 L412.3,305.0 L413.0,305.0 L413.7,305.1 L414.4,309.9 L415.0,306.9 L415.7,309.1 L416.4,307.2 L417.1,311.3 L417.7,313.9 L418.4,309.5 L419.1,309.4 L419.8,311.8 L420.5,308.7 L421.1,311.9 L421.8,313.0 L422.5,310.8 L423.2,316.0 L423.8,314.1 L424.5,312.8 L425.2,311.0 L425.9,313.7 L426.6,312.8 L427.2,315.3 L427.9,313.2 L428.6,310.2 L429.3,316.0 L430.0,308.9 L430.6,316.2 L431.3,314.8 L432.0,314.6 L432.7,312.7 L433.3,318.2 L434.0,320.4 L434.7,314.1 L435.4,313.8 L436.1,314.3 L436.7,309.7 L437.4,315.5 L438.1,315.5 L438.8,314.0 L439.4,315.5 L440.1,312.5 L440.8,319.4 L441.5,317.5 L442.2,324.8 L442.8,314.9 L443.5,317.7 L444.2,314.8 L444.9,311.9 L445.6,317.1 L446.2,317.7 L446.9,318.4 L447.6,319.2 L448.3,318.8 L448.9,315.9 L449.6,317.4 L450.3,317.4 L451.0,318.0 L451.7,315.5 L452.3,316.5 L453.0,318.1 L453.7,316.2 L454.4,318.2 L455.0,320.6 L455.7,314.5 L456.4,316.9 L457.1,320.2 L457.8,315.5 L458.4,317.3 L459.1,321.8" fill="none" stroke="#6cb43a" stroke-width="1.1" stroke-linejoin="round"/>
<path d="M288.2,316.8 L288.9,319.7 L289.6,318.4 L290.2,319.9 L290.9,320.7 L291.6,323.9 L292.3,318.0 L292.9,320.2 L293.6,320.9 L294.3,319.3 L295.0,319.9 L295.7,318.5 L296.3,320.9 L297.0,320.1 L297.7,324.9 L298.4,320.9 L299.1,318.2 L299.7,316.6 L300.4,320.6 L301.1,319.9 L301.8,315.9 L302.4,320.3 L303.1,317.8 L303.8,315.5 L304.5,319.3 L305.2,316.4 L305.8,320.9 L306.5,318.7 L307.2,319.3 L307.9,318.8 L308.5,316.3 L309.2,313.3 L309.9,320.4 L310.6,320.1 L311.3,317.5 L311.9,321.1 L312.6,317.4 L313.3,317.1 L314.0,319.0 L314.7,317.0 L315.3,321.8 L316.0,316.3 L316.7,321.6 L317.4,319.5 L318.0,319.1 L318.7,318.6 L319.4,315.6 L320.1,317.3 L320.8,318.3 L321.4,316.0 L322.1,313.4 L322.8,317.0 L323.5,316.0 L324.1,313.8 L324.8,316.0 L325.5,319.5 L326.2,310.5 L326.9,311.0 L327.5,320.7 L328.2,316.0 L328.9,314.7 L329.6,313.3 L330.3,313.8 L330.9,315.8 L331.6,317.5 L332.3,314.5 L333.0,312.1 L333.6,316.9 L334.3,316.6 L335.0,313.9 L335.7,318.2 L336.4,314.0 L337.0,314.1 L337.7,311.7 L338.4,314.2 L339.1,314.3 L339.7,312.7 L340.4,311.5 L341.1,312.6 L341.8,310.6 L342.5,308.4 L343.1,306.9 L343.8,305.1 L344.5,310.6 L345.2,309.2 L345.9,313.6 L346.5,302.3 L347.2,308.0 L347.9,305.6 L348.6,303.5 L349.2,307.3 L349.9,302.0 L350.6,302.2 L351.3,305.7 L352.0,299.4 L352.6,296.1 L353.3,302.6 L354.0,294.6 L354.7,294.8 L355.3,292.8 L356.0,291.4 L356.7,287.6 L357.4,289.9 L358.1,285.4 L358.7,286.9 L359.4,282.1 L360.1,284.2 L360.8,280.3 L361.4,273.2 L362.1,274.4 L362.8,273.7 L363.5,274.0 L364.2,270.5 L364.8,265.2 L365.5,260.5 L366.2,259.2 L366.9,256.1 L367.6,254.8 L368.2,247.9 L368.9,249.9 L369.6,247.4 L370.3,240.2 L370.9,239.6 L371.6,237.6 L372.3,235.5 L373.0,231.6 L373.7,226.1 L374.3,224.2 L375.0,226.4 L375.7,218.8 L376.4,217.3 L377.0,219.0 L377.7,211.5 L378.4,213.3 L379.1,212.1 L379.8,207.5 L380.4,205.1 L381.1,211.3 L381.8,207.6 L382.5,212.1 L383.2,202.5 L383.8,212.3 L384.5,208.1 L385.2,215.3 L385.9,212.3 L386.5,209.7 L387.2,226.7 L387.9,222.3 L388.6,221.7 L389.3,226.1 L389.9,230.4 L390.6,224.5 L391.3,233.5 L392.0,241.5 L392.6,236.8 L393.3,247.2 L394.0,241.6 L394.7,249.4 L395.4,250.1 L396.0,249.6 L396.7,255.6 L397.4,262.5 L398.1,265.9 L398.8,260.4 L399.4,264.1 L400.1,270.8 L400.8,268.5 L401.5,271.7 L402.1,273.5 L402.8,283.3 L403.5,280.1 L404.2,278.9 L404.9,281.2 L405.5,282.5 L406.2,292.9 L406.9,287.7 L407.6,288.4 L408.2,284.6 L408.9,295.0 L409.6,294.7 L410.3,295.1 L411.0,294.1 L411.6,298.6 L412.3,295.7 L413.0,301.5 L413.7,299.9 L414.4,302.7 L415.0,301.9 L415.7,304.8 L416.4,307.8 L417.1,301.9 L417.7,304.5 L418.4,307.2 L419.1,306.0 L419.8,304.6 L420.5,310.0 L421.1,308.4 L421.8,307.3 L422.5,307.7 L423.2,310.2 L423.8,314.9 L424.5,307.2 L425.2,309.8 L425.9,310.9 L426.6,311.9 L427.2,310.9 L427.9,312.8 L428.6,314.5 L429.3,314.1 L430.0,314.0 L430.6,314.3 L431.3,315.8 L432.0,311.7 L432.7,316.6 L433.3,312.1 L434.0,316.2 L434.7,313.2 L435.4,310.9 L436.1,313.9 L436.7,316.2 L437.4,314.5 L438.1,314.4 L438.8,319.0 L439.4,316.5 L440.1,314.8 L440.8,316.4 L441.5,315.3 L442.2,313.8 L442.8,313.9 L443.5,313.7 L444.2,314.5 L444.9,316.7 L445.6,316.1 L446.2,316.8 L446.9,317.0 L447.6,316.8 L448.3,320.5 L448.9,317.3 L449.6,316.7 L450.3,319.0 L451.0,316.8 L451.7,315.6 L452.3,317.3 L453.0,312.1 L453.7,323.2 L454.4,317.6 L455.0,321.5 L455.7,315.0 L456.4,311.1 L457.1,323.3 L457.8,317.1 L458.4,316.3 L459.1,318.3" fill="none" stroke="#3aa0d8" stroke-width="1.1" stroke-linejoin="round"/>
<path d="M288.2,319.3 L288.9,325.8 L289.6,318.5 L290.2,319.6 L290.9,320.4 L291.6,321.8 L292.3,318.9 L292.9,321.5 L293.6,319.8 L294.3,321.4 L295.0,325.4 L295.7,320.2 L296.3,319.6 L297.0,318.3 L297.7,322.0 L298.4,320.0 L299.1,318.4 L299.7,319.5 L300.4,316.9 L301.1,315.1 L301.8,321.8 L302.4,324.1 L303.1,317.5 L303.8,315.9 L304.5,317.2 L305.2,317.4 L305.8,320.7 L306.5,320.9 L307.2,317.1 L307.9,321.2 L308.5,323.3 L309.2,321.3 L309.9,313.0 L310.6,314.3 L311.3,320.3 L311.9,320.3 L312.6,318.0 L313.3,320.2 L314.0,315.3 L314.7,318.4 L315.3,320.7 L316.0,315.0 L316.7,319.3 L317.4,317.3 L318.0,317.8 L318.7,318.4 L319.4,316.8 L320.1,319.1 L320.8,321.7 L321.4,322.4 L322.1,320.1 L322.8,318.7 L323.5,316.9 L324.1,316.5 L324.8,315.2 L325.5,316.1 L326.2,318.1 L326.9,317.8 L327.5,320.9 L328.2,316.1 L328.9,314.4 L329.6,314.1 L330.3,315.5 L330.9,315.4 L331.6,312.6 L332.3,314.5 L333.0,312.6 L333.6,312.7 L334.3,313.4 L335.0,310.5 L335.7,314.7 L336.4,313.9 L337.0,314.7 L337.7,314.3 L338.4,308.4 L339.1,307.5 L339.7,311.3 L340.4,309.6 L341.1,307.7 L341.8,308.2 L342.5,306.7 L343.1,312.2 L343.8,310.2 L344.5,306.9 L345.2,303.9 L345.9,306.5 L346.5,308.2 L347.2,306.3 L347.9,306.2 L348.6,305.9 L349.2,299.2 L349.9,303.5 L350.6,300.9 L351.3,294.6 L352.0,295.9 L352.6,296.8 L353.3,297.9 L354.0,294.0 L354.7,289.5 L355.3,290.6 L356.0,287.4 L356.7,288.7 L357.4,285.9 L358.1,285.9 L358.7,282.4 L359.4,278.0 L360.1,283.2 L360.8,277.4 L361.4,274.3 L362.1,274.1 L362.8,270.9 L363.5,265.3 L364.2,259.3 L364.8,260.4 L365.5,258.4 L366.2,260.8 L366.9,248.0 L367.6,250.3 L368.2,247.5 L368.9,247.6 L369.6,241.4 L370.3,241.4 L370.9,234.8 L371.6,230.5 L372.3,228.8 L373.0,225.0 L373.7,225.6 L374.3,215.8 L375.0,219.7 L375.7,221.0 L376.4,213.6 L377.0,213.4 L377.7,212.5 L378.4,209.0 L379.1,205.8 L379.8,209.8 L380.4,205.9 L381.1,200.7 L381.8,203.3 L382.5,206.6 L383.2,206.4 L383.8,208.3 L384.5,209.4 L385.2,208.5 L385.9,213.0 L386.5,222.4 L387.2,217.1 L387.9,222.2 L388.6,219.9 L389.3,226.4 L389.9,226.8 L390.6,223.4 L391.3,236.1 L392.0,239.2 L392.6,242.9 L393.3,248.7 L394.0,250.0 L394.7,246.3 L395.4,252.1 L396.0,258.4 L396.7,260.0 L397.4,256.7 L398.1,263.3 L398.8,264.7 L399.4,265.2 L400.1,264.8 L400.8,265.6 L401.5,270.4 L402.1,274.9 L402.8,276.9 L403.5,274.7 L404.2,277.6 L404.9,284.1 L405.5,283.8 L406.2,286.0 L406.9,288.2 L407.6,291.1 L408.2,294.7 L408.9,294.1 L409.6,298.0 L410.3,292.2 L411.0,295.1 L411.6,300.7 L412.3,295.2 L413.0,297.5 L413.7,305.4 L414.4,297.0 L415.0,300.4 L415.7,298.1 L416.4,307.0 L417.1,303.4 L417.7,304.3 L418.4,305.5 L419.1,306.2 L419.8,304.6 L420.5,311.3 L421.1,311.2 L421.8,312.0 L422.5,310.4 L423.2,311.0 L423.8,309.0 L424.5,309.6 L425.2,310.6 L425.9,312.6 L426.6,312.3 L427.2,309.3 L427.9,310.0 L428.6,311.9 L429.3,313.2 L430.0,308.9 L430.6,314.3 L431.3,311.6 L432.0,310.6 L432.7,314.2 L433.3,311.7 L434.0,316.6 L434.7,311.7 L435.4,313.8 L436.1,318.2 L436.7,313.0 L437.4,316.8 L438.1,311.8 L438.8,316.6 L439.4,315.5 L440.1,314.6 L440.8,316.2 L441.5,314.9 L442.2,317.0 L442.8,314.2 L443.5,315.9 L444.2,315.5 L444.9,322.6 L445.6,313.4 L446.2,316.2 L446.9,320.6 L447.6,316.2 L448.3,315.5 L448.9,314.1 L449.6,319.3 L450.3,313.2 L451.0,317.3 L451.7,311.3 L452.3,317.4 L453.0,315.5 L453.7,318.0 L454.4,319.9 L455.0,314.7 L455.7,315.2 L456.4,313.8 L457.1,315.5 L457.8,318.9 L458.4,321.5 L459.1,319.2" fill="none" stroke="#9a4cf5" stroke-width="1.1" stroke-linejoin="round"/>
</g>
<rect x="288" y="177.5" width="170.3" height="163.5" fill="none" stroke="#8c8c8c" stroke-width="1.1"/>
<line x1="311.75" y1="341" x2="311.75" y2="339" stroke="#8c8c8c" stroke-width="1"/>
<line x1="335.30" y1="341" x2="335.30" y2="338" stroke="#8c8c8c" stroke-width="1"/>
<line x1="358.85" y1="341" x2="358.85" y2="339" stroke="#8c8c8c" stroke-width="1"/>
<line x1="382.40" y1="341" x2="382.40" y2="338" stroke="#8c8c8c" stroke-width="1"/>
<line x1="405.95" y1="341" x2="405.95" y2="339" stroke="#8c8c8c" stroke-width="1"/>
<line x1="429.50" y1="341" x2="429.50" y2="338" stroke="#8c8c8c" stroke-width="1"/>
<line x1="453.05" y1="341" x2="453.05" y2="339" stroke="#8c8c8c" stroke-width="1"/>
<text x="288.20" y="352.8" font-size="10" text-anchor="middle" fill="#231f20" >0.90</text>
<text x="335.30" y="352.8" font-size="10" text-anchor="middle" fill="#231f20" >0.95</text>
<text x="382.40" y="352.8" font-size="10" text-anchor="middle" fill="#231f20" >1.00</text>
<text x="429.50" y="352.8" font-size="10" text-anchor="middle" fill="#231f20" >1.05</text>
<line x1="288" y1="322.00" x2="291" y2="322.00" stroke="#8c8c8c" stroke-width="1"/>
<line x1="288" y1="302.70" x2="290" y2="302.70" stroke="#8c8c8c" stroke-width="1"/>
<line x1="288" y1="283.40" x2="291" y2="283.40" stroke="#8c8c8c" stroke-width="1"/>
<line x1="288" y1="264.10" x2="290" y2="264.10" stroke="#8c8c8c" stroke-width="1"/>
<line x1="288" y1="244.80" x2="291" y2="244.80" stroke="#8c8c8c" stroke-width="1"/>
<line x1="288" y1="225.50" x2="290" y2="225.50" stroke="#8c8c8c" stroke-width="1"/>
<line x1="288" y1="206.20" x2="291" y2="206.20" stroke="#8c8c8c" stroke-width="1"/>
<line x1="288" y1="186.90" x2="290" y2="186.90" stroke="#8c8c8c" stroke-width="1"/>
<text x="283.3" y="325.60" font-size="10" text-anchor="end" fill="#231f20" >0</text>
<text x="283.3" y="287.00" font-size="10" text-anchor="end" fill="#231f20" >2k</text>
<text x="283.3" y="248.40" font-size="10" text-anchor="end" fill="#231f20" >4k</text>
<text x="283.3" y="209.80" font-size="10" text-anchor="end" fill="#231f20" >6k</text>
<text x="373.3" y="368.9" font-size="10" text-anchor="middle" fill="#231f20" >Energy (eV)</text>
<text transform="translate(263.4,258.9) rotate(-90)" font-size="10" text-anchor="middle" fill="#231f20">PL intensity (a.u.)</text>
<text x="295" y="186.9" font-size="10" fill="#231f20"><tspan font-family="Liberation Serif, serif" font-style="italic" font-size="11">hν</tspan> (eV)</text>
<line x1="296.1" y1="197.20" x2="315.3" y2="197.20" stroke="#3a3a3a" stroke-width="1"/>
<text x="319.6" y="200.90" font-size="10" text-anchor="start" fill="#231f20" >1.65</text>
<line x1="296.1" y1="207.50" x2="315.3" y2="207.50" stroke="#ec7a84" stroke-width="1"/>
<text x="319.6" y="211.20" font-size="10" text-anchor="start" fill="#231f20" >1.94</text>
<line x1="296.1" y1="217.80" x2="315.3" y2="217.80" stroke="#b4d890" stroke-width="1"/>
<text x="319.6" y="221.50" font-size="10" text-anchor="start" fill="#231f20" >2.33</text>
<line x1="296.1" y1="228.10" x2="315.3" y2="228.10" stroke="#78b4dc" stroke-width="1"/>
<text x="319.6" y="231.80" font-size="10" text-anchor="start" fill="#231f20" >2.77</text>
<line x1="296.1" y1="238.40" x2="315.3" y2="238.40" stroke="#a860f4" stroke-width="1"/>
<text x="319.6" y="242.10" font-size="10" text-anchor="start" fill="#231f20" >3.06</text>
<text x="455.8" y="190.2" font-size="10" text-anchor="end" fill="#231f20">MoS<tspan font-size="7" dy="2.2">2</tspan><tspan dy="-2.2">/WSe</tspan><tspan font-size="7" dy="2.2">2</tspan><tspan dy="-2.2">0.2°</tspan></text>
<line x1="521" y1="318.3" x2="684" y2="318.3" stroke="#222" stroke-width="1.1"/>
<rect x="521" y="177.3" width="163" height="164.8" fill="none" stroke="#8c8c8c" stroke-width="1.1"/>
<line x1="545.07" y1="342.1" x2="545.07" y2="340.1" stroke="#8c8c8c" stroke-width="1"/>
<line x1="569.13" y1="342.1" x2="569.13" y2="339.1" stroke="#8c8c8c" stroke-width="1"/>
<line x1="593.20" y1="342.1" x2="593.20" y2="340.1" stroke="#8c8c8c" stroke-width="1"/>
<line x1="617.27" y1="342.1" x2="617.27" y2="339.1" stroke="#8c8c8c" stroke-width="1"/>
<line x1="641.34" y1="342.1" x2="641.34" y2="340.1" stroke="#8c8c8c" stroke-width="1"/>
<line x1="665.40" y1="342.1" x2="665.40" y2="339.1" stroke="#8c8c8c" stroke-width="1"/>
<text x="521.00" y="353.3" font-size="10" text-anchor="middle" fill="#231f20" >1.5</text>
<text x="569.13" y="353.3" font-size="10" text-anchor="middle" fill="#231f20" >2.0</text>
<text x="617.27" y="353.3" font-size="10" text-anchor="middle" fill="#231f20" >2.5</text>
<text x="665.40" y="353.3" font-size="10" text-anchor="middle" fill="#231f20" >3.0</text>
<line x1="521" y1="318.30" x2="524" y2="318.30" stroke="#8c8c8c" stroke-width="1"/>
<line x1="521" y1="294.78" x2="523" y2="294.78" stroke="#8c8c8c" stroke-width="1"/>
<line x1="521" y1="271.26" x2="524" y2="271.26" stroke="#8c8c8c" stroke-width="1"/>
<line x1="521" y1="247.74" x2="523" y2="247.74" stroke="#8c8c8c" stroke-width="1"/>
<line x1="521" y1="224.22" x2="524" y2="224.22" stroke="#8c8c8c" stroke-width="1"/>
<line x1="521" y1="200.70" x2="523" y2="200.70" stroke="#8c8c8c" stroke-width="1"/>
<text x="516.3" y="321.90" font-size="10" text-anchor="end" fill="#231f20" >1.0</text>
<text x="516.3" y="274.86" font-size="10" text-anchor="end" fill="#231f20" >1.2</text>
<text x="516.3" y="227.82" font-size="10" text-anchor="end" fill="#231f20" >1.4</text>
<text x="516.3" y="180.78" font-size="10" text-anchor="end" fill="#231f20" >1.6</text>
<text transform="translate(493.6,260.1) rotate(-90)" font-size="10" text-anchor="middle" fill="#231f20">Quantum yield (Norm.)</text>
<text x="532" y="190.8" font-size="10" text-anchor="start" fill="#231f20" >IX emission</text>
<text x="578.0" y="370.2" font-size="10.5" fill="#231f20"><tspan font-family="Liberation Serif, serif" font-style="italic" font-size="11.8">hν</tspan><tspan dx="0.3">/</tspan><tspan font-style="italic">E</tspan><tspan font-size="7.5" dy="1.8" dx="0.3">g(type-II)</tspan></text>
<path d="M566.00,318.30 C567.33,318.12 571.33,317.92 574.00,317.20 C576.67,316.48 579.32,315.30 582.00,314.00 C584.68,312.70 587.30,311.50 590.10,309.40 C592.90,307.30 595.92,304.55 598.80,301.40 C601.68,298.25 604.62,294.10 607.40,290.50 C610.18,286.90 611.63,285.13 615.50,279.80 C619.37,274.47 624.85,266.23 630.60,258.50 C636.35,250.77 643.22,242.38 650.00,233.40 C656.78,224.42 667.75,209.40 671.30,204.60" fill="none" stroke="#d42a36" stroke-width="1.6" stroke-dasharray="3 2.4"/>
<line x1="535.44" y1="311.4" x2="535.44" y2="325.4" stroke="#d42a36" stroke-width="1"/>
<line x1="532.84" y1="311.4" x2="538.04" y2="311.4" stroke="#d42a36" stroke-width="1"/>
<line x1="532.84" y1="325.4" x2="538.04" y2="325.4" stroke="#d42a36" stroke-width="1"/>
<circle cx="535.44" cy="318.30" r="3.4" fill="url(#gPtRed)"/>
<line x1="563.36" y1="306.3" x2="563.36" y2="320.7" stroke="#d42a36" stroke-width="1"/>
<line x1="560.76" y1="306.3" x2="565.96" y2="306.3" stroke="#d42a36" stroke-width="1"/>
<line x1="560.76" y1="320.7" x2="565.96" y2="320.7" stroke="#d42a36" stroke-width="1"/>
<circle cx="563.36" cy="313.60" r="3.4" fill="url(#gPtRed)"/>
<line x1="600.90" y1="284.7" x2="600.90" y2="300.3" stroke="#d42a36" stroke-width="1"/>
<line x1="598.30" y1="284.7" x2="603.50" y2="284.7" stroke="#d42a36" stroke-width="1"/>
<line x1="598.30" y1="300.3" x2="603.50" y2="300.3" stroke="#d42a36" stroke-width="1"/>
<circle cx="600.90" cy="292.43" r="3.4" fill="url(#gPtRed)"/>
<line x1="643.26" y1="222.3" x2="643.26" y2="241.4" stroke="#d42a36" stroke-width="1"/>
<line x1="640.66" y1="222.3" x2="645.86" y2="222.3" stroke="#d42a36" stroke-width="1"/>
<line x1="640.66" y1="241.4" x2="645.86" y2="241.4" stroke="#d42a36" stroke-width="1"/>
<circle cx="643.26" cy="231.28" r="3.4" fill="url(#gPtRed)"/>
<line x1="671.18" y1="203.3" x2="671.18" y2="224.2" stroke="#d42a36" stroke-width="1"/>
<line x1="668.58" y1="203.3" x2="673.78" y2="203.3" stroke="#d42a36" stroke-width="1"/>
<line x1="668.58" y1="224.2" x2="673.78" y2="224.2" stroke="#d42a36" stroke-width="1"/>
<circle cx="671.18" cy="214.81" r="3.4" fill="url(#gPtRed)"/>
<path d="M136.60,209.70 L137.60,214.01 L138.60,217.96 L139.60,221.58 L140.60,224.88 L141.60,227.88 L142.60,230.61 L143.60,233.09 L144.60,235.32 L145.60,237.33 L146.60,239.14 L147.60,240.76 L148.60,242.21 L149.60,243.49 L150.60,244.63 L151.60,245.64 L152.60,246.53 L153.60,247.30 L154.60,247.98 L155.60,248.57 L156.60,249.08 L157.60,249.51 L158.60,249.88 L159.60,250.19 L160.60,250.45 L161.60,250.65 L162.60,250.82 L163.60,250.94 L164.60,251.03 L165.60,251.08 L166.60,251.10 L167.60,251.08 L168.60,251.03 L169.60,250.94 L170.60,250.82 L171.60,250.65 L172.60,250.45 L173.60,250.19 L174.60,249.88 L175.60,249.51 L176.60,249.08 L177.60,248.57 L178.60,247.98 L179.60,247.30 L180.60,246.53 L181.60,245.64 L182.60,244.63 L183.60,243.49 L184.60,242.21 L185.60,240.76 L186.60,239.14 L187.60,237.33 L188.60,235.32 L189.60,233.09 L190.60,230.61 L191.60,227.88 L192.60,224.88 L193.60,221.58 L194.60,217.96 L195.60,214.01 L196.60,209.70 Z" fill="url(#gCBred)" stroke="none" clip-path="url(#clipcb)"/>
<path d="M37.40,321.50 L38.39,318.61 L39.38,315.83 L40.37,313.17 L41.36,310.63 L42.35,308.20 L43.34,305.87 L44.33,303.66 L45.32,301.56 L46.31,299.56 L47.30,297.66 L48.29,295.86 L49.28,294.17 L50.27,292.58 L51.26,291.08 L52.25,289.68 L53.24,288.38 L54.23,287.17 L55.22,286.05 L56.21,285.03 L57.20,284.10 L58.19,283.26 L59.18,282.51 L60.17,281.85 L61.16,281.28 L62.15,280.79 L63.14,280.40 L64.13,280.09 L65.12,279.87 L66.11,279.74 L67.10,279.70 L68.09,279.74 L69.08,279.87 L70.07,280.09 L71.06,280.40 L72.05,280.79 L73.04,281.28 L74.03,281.85 L75.02,282.51 L76.01,283.26 L77.00,284.10 L77.99,285.03 L78.98,286.05 L79.97,287.17 L80.96,288.38 L81.95,289.68 L82.94,291.08 L83.93,292.58 L84.92,294.17 L85.91,295.86 L86.90,297.66 L87.89,299.56 L88.88,301.56 L89.87,303.66 L90.86,305.87 L91.85,308.20 L92.84,310.63 L93.83,313.17 L94.82,315.83 L95.81,318.61 L96.80,321.50 Z" fill="url(#gVBblue)" stroke="none"/>
<path d="M103.80,316.60 L104.32,314.69 L104.84,312.93 L105.36,311.30 L105.88,309.81 L106.40,308.45 L106.92,307.20 L107.44,306.06 L107.96,305.02 L108.48,304.07 L109.00,303.21 L109.52,302.44 L110.04,301.74 L110.56,301.11 L111.08,300.54 L111.60,300.04 L112.12,299.59 L112.64,299.19 L113.16,298.83 L113.68,298.52 L114.20,298.25 L114.72,298.01 L115.24,297.80 L115.76,297.63 L116.28,297.48 L116.80,297.36 L117.32,297.27 L117.84,297.19 L118.36,297.14 L118.88,297.11 L119.40,297.10 L119.92,297.11 L120.44,297.14 L120.96,297.19 L121.48,297.27 L122.00,297.36 L122.52,297.48 L123.04,297.63 L123.56,297.80 L124.08,298.01 L124.60,298.25 L125.12,298.52 L125.64,298.83 L126.16,299.19 L126.68,299.59 L127.20,300.04 L127.72,300.54 L128.24,301.11 L128.76,301.74 L129.28,302.44 L129.80,303.21 L130.32,304.07 L130.84,305.02 L131.36,306.06 L131.88,307.20 L132.40,308.45 L132.92,309.81 L133.44,311.30 L133.96,312.93 L134.48,314.69 L135.00,316.60 Z" fill="url(#gVBgray)" stroke="none"/>
<path d="M36.20,188.10 L37.19,191.40 L38.17,194.52 L39.16,197.46 L40.15,200.24 L41.13,202.85 L42.12,205.32 L43.11,207.63 L44.09,209.81 L45.08,211.84 L46.07,213.75 L47.05,215.53 L48.04,217.19 L49.03,218.73 L50.01,220.17 L51.00,221.49 L51.99,222.71 L52.97,223.83 L53.96,224.86 L54.95,225.79 L55.93,226.63 L56.92,227.38 L57.91,228.05 L58.89,228.63 L59.88,229.13 L60.87,229.55 L61.85,229.89 L62.84,230.16 L63.83,230.35 L64.81,230.46 L65.80,230.50 L66.79,230.46 L67.77,230.35 L68.76,230.16 L69.75,229.89 L70.73,229.55 L71.72,229.13 L72.71,228.63 L73.69,228.05 L74.68,227.38 L75.67,226.63 L76.65,225.79 L77.64,224.86 L78.63,223.83 L79.61,222.71 L80.60,221.49 L81.59,220.17 L82.57,218.73 L83.56,217.19 L84.55,215.53 L85.53,213.75 L86.52,211.84 L87.51,209.81 L88.49,207.63 L89.48,205.32 L90.47,202.85 L91.45,200.24 L92.44,197.46 L93.43,194.52 L94.41,191.40 L95.40,188.10" fill="none" stroke="#333" stroke-width="0.8"/>
<path d="M136.60,209.70 L137.60,214.01 L138.60,217.96 L139.60,221.58 L140.60,224.88 L141.60,227.88 L142.60,230.61 L143.60,233.09 L144.60,235.32 L145.60,237.33 L146.60,239.14 L147.60,240.76 L148.60,242.21 L149.60,243.49 L150.60,244.63 L151.60,245.64 L152.60,246.53 L153.60,247.30 L154.60,247.98 L155.60,248.57 L156.60,249.08 L157.60,249.51 L158.60,249.88 L159.60,250.19 L160.60,250.45 L161.60,250.65 L162.60,250.82 L163.60,250.94 L164.60,251.03 L165.60,251.08 L166.60,251.10 L167.60,251.08 L168.60,251.03 L169.60,250.94 L170.60,250.82 L171.60,250.65 L172.60,250.45 L173.60,250.19 L174.60,249.88 L175.60,249.51 L176.60,249.08 L177.60,248.57 L178.60,247.98 L179.60,247.30 L180.60,246.53 L181.60,245.64 L182.60,244.63 L183.60,243.49 L184.60,242.21 L185.60,240.76 L186.60,239.14 L187.60,237.33 L188.60,235.32 L189.60,233.09 L190.60,230.61 L191.60,227.88 L192.60,224.88 L193.60,221.58 L194.60,217.96 L195.60,214.01 L196.60,209.70" fill="none" stroke="#333" stroke-width="0.8"/>
<path d="M37.40,321.50 L38.39,318.61 L39.38,315.83 L40.37,313.17 L41.36,310.63 L42.35,308.20 L43.34,305.87 L44.33,303.66 L45.32,301.56 L46.31,299.56 L47.30,297.66 L48.29,295.86 L49.28,294.17 L50.27,292.58 L51.26,291.08 L52.25,289.68 L53.24,288.38 L54.23,287.17 L55.22,286.05 L56.21,285.03 L57.20,284.10 L58.19,283.26 L59.18,282.51 L60.17,281.85 L61.16,281.28 L62.15,280.79 L63.14,280.40 L64.13,280.09 L65.12,279.87 L66.11,279.74 L67.10,279.70 L68.09,279.74 L69.08,279.87 L70.07,280.09 L71.06,280.40 L72.05,280.79 L73.04,281.28 L74.03,281.85 L75.02,282.51 L76.01,283.26 L77.00,284.10 L77.99,285.03 L78.98,286.05 L79.97,287.17 L80.96,288.38 L81.95,289.68 L82.94,291.08 L83.93,292.58 L84.92,294.17 L85.91,295.86 L86.90,297.66 L87.89,299.56 L88.88,301.56 L89.87,303.66 L90.86,305.87 L91.85,308.20 L92.84,310.63 L93.83,313.17 L94.82,315.83 L95.81,318.61 L96.80,321.50" fill="none" stroke="#333" stroke-width="0.8"/>
<path d="M103.80,316.60 L104.32,314.69 L104.84,312.93 L105.36,311.30 L105.88,309.81 L106.40,308.45 L106.92,307.20 L107.44,306.06 L107.96,305.02 L108.48,304.07 L109.00,303.21 L109.52,302.44 L110.04,301.74 L110.56,301.11 L111.08,300.54 L111.60,300.04 L112.12,299.59 L112.64,299.19 L113.16,298.83 L113.68,298.52 L114.20,298.25 L114.72,298.01 L115.24,297.80 L115.76,297.63 L116.28,297.48 L116.80,297.36 L117.32,297.27 L117.84,297.19 L118.36,297.14 L118.88,297.11 L119.40,297.10 L119.92,297.11 L120.44,297.14 L120.96,297.19 L121.48,297.27 L122.00,297.36 L122.52,297.48 L123.04,297.63 L123.56,297.80 L124.08,298.01 L124.60,298.25 L125.12,298.52 L125.64,298.83 L126.16,299.19 L126.68,299.59 L127.20,300.04 L127.72,300.54 L128.24,301.11 L128.76,301.74 L129.28,302.44 L129.80,303.21 L130.32,304.07 L130.84,305.02 L131.36,306.06 L131.88,307.20 L132.40,308.45 L132.92,309.81 L133.44,311.30 L133.96,312.93 L134.48,314.69 L135.00,316.60" fill="none" stroke="#333" stroke-width="0.8"/>
<path d="M136.45,346.30 L137.44,343.06 L138.43,339.99 L139.41,337.09 L140.40,334.35 L141.39,331.77 L142.38,329.34 L143.37,327.05 L144.36,324.90 L145.34,322.89 L146.33,321.00 L147.32,319.23 L148.31,317.58 L149.30,316.05 L150.29,314.62 L151.28,313.30 L152.26,312.09 L153.25,310.97 L154.24,309.95 L155.23,309.02 L156.22,308.18 L157.20,307.43 L158.19,306.76 L159.18,306.18 L160.17,305.67 L161.16,305.25 L162.15,304.91 L163.13,304.64 L164.12,304.45 L165.11,304.34 L166.10,304.30 L167.09,304.34 L168.08,304.45 L169.06,304.64 L170.05,304.91 L171.04,305.25 L172.03,305.67 L173.02,306.18 L174.01,306.76 L175.00,307.43 L175.98,308.18 L176.97,309.02 L177.96,309.95 L178.95,310.97 L179.94,312.09 L180.92,313.30 L181.91,314.62 L182.90,316.05 L183.89,317.58 L184.88,319.23 L185.87,321.00 L186.85,322.89 L187.84,324.90 L188.83,327.05 L189.82,329.34 L190.81,331.77 L191.80,334.35 L192.78,337.09 L193.77,339.99 L194.76,343.06 L195.75,346.30" fill="none" stroke="#333" stroke-width="0.8"/>
<line x1="68" y1="231.1" x2="207.5" y2="231.1" stroke="#222" stroke-width="1.2" stroke-dasharray="1 1"/>
<line x1="167" y1="251.4" x2="210.5" y2="251.4" stroke="#222" stroke-width="1.2" stroke-dasharray="1 1"/>
<line x1="70" y1="279.8" x2="210.5" y2="279.8" stroke="#222" stroke-width="1.2" stroke-dasharray="1 1"/>
<line x1="168" y1="304.3" x2="209.5" y2="304.3" stroke="#222" stroke-width="1.2" stroke-dasharray="1 1"/>
<line x1="205.5" y1="233.5" x2="205.5" y2="249" stroke="#444" stroke-width="0.9" stroke-dasharray="1 1.2"/>
<path d="M204,235.7 L205.5,233.5 L207,235.7 z" fill="#444"/>
<path d="M204,246.8 L205.5,249 L207,246.8 z" fill="#444"/>
<line x1="205.5" y1="253.5" x2="205.5" y2="277.5" stroke="#444" stroke-width="0.9" stroke-dasharray="1 1.2"/>
<path d="M204,255.7 L205.5,253.5 L207,255.7 z" fill="#444"/>
<path d="M204,275.3 L205.5,277.5 L207,275.3 z" fill="#444"/>
<line x1="205.5" y1="282" x2="205.5" y2="302" stroke="#444" stroke-width="0.9" stroke-dasharray="1 1.2"/>
<path d="M204,284.2 L205.5,282 L207,284.2 z" fill="#444"/>
<path d="M204,299.8 L205.5,302 L207,299.8 z" fill="#444"/>
<text x="211.3" y="243.5" font-size="10" text-anchor="start" fill="#231f20" >ΔCBM</text>
<text x="210.9" y="294.6" font-size="10" text-anchor="start" fill="#231f20" >ΔCBM</text>
<text x="190.5" y="265.3" font-size="11" fill="#231f20" font-style="italic">E<tspan font-style="normal" font-size="7.0" dy="2.9">g(type-II)</tspan></text>
<line x1="64.5" y1="280.5" x2="156" y2="243" stroke="#e04050" stroke-width="0.7" stroke-dasharray="2 1.3"/>
<line x1="68" y1="283.5" x2="159" y2="249.5" stroke="#e04050" stroke-width="0.7" stroke-dasharray="2 1.3"/>
<line x1="73" y1="282" x2="163" y2="251" stroke="#e04050" stroke-width="0.7" stroke-dasharray="2 1.3"/>
<line x1="78.5" y1="287.5" x2="171" y2="251.5" stroke="#e04050" stroke-width="0.7" stroke-dasharray="2 1.3"/>
<path d="M118.80,261.80 L119.20,261.30 L119.60,260.81 L120.00,260.37 L120.40,259.99 L120.80,259.68 L121.20,259.46 L121.60,259.33 L122.00,259.30 L122.40,259.38 L122.80,259.56 L123.20,259.82 L123.60,260.17 L124.00,260.59 L124.40,261.05 L124.80,261.55 L125.20,262.05 L125.60,262.55 L126.00,263.01 L126.40,263.43 L126.80,263.78 L127.20,264.04 L127.60,264.22 L128.00,264.30 L128.40,264.27 L128.80,264.14 L129.20,263.92 L129.60,263.61 L130.00,263.23 L130.40,262.79 L130.80,262.30 L131.20,261.80 L131.60,261.30 L132.00,260.81 L132.40,260.37 L132.80,259.99 L133.20,259.68 L133.60,259.46 L134.00,259.33 L134.40,259.30 L134.80,259.38 L135.20,259.56 L135.60,259.82 L136.00,260.17 L136.40,260.59 L136.80,261.05 L137.20,261.55 L137.60,262.05 L138.00,262.55 L138.40,263.01 L138.80,263.43 L139.20,263.78 L139.60,264.04 L140.00,264.22 L140.40,264.30 L140.80,264.27 L141.20,264.14 L141.60,263.92 L142.00,263.61 L142.40,263.23 L142.80,262.79 L143.20,262.30 L143.60,261.80 L144.00,261.30 L144.40,260.81 L144.80,260.37 L145.20,259.99 L145.60,259.68 L146.00,259.46 L146.40,259.41 L146.80,259.46 L147.20,259.61 L147.60,259.84 L148.00,260.14 L148.40,260.48 L148.80,260.86 L149.20,261.24 L149.60,261.62 L150.00,261.97 L150.40,262.28 L150.80,262.55 L151.20,262.75 L151.60,262.89 L152.00,262.97 L152.40,262.98 L152.80,262.94 L153.20,262.85 L153.60,262.72 L154.00,262.56 L154.40,262.39 L154.80,262.22 L155.20,262.06 L155.60,261.92 L156.00,261.80 L156.40,261.72 L156.80,261.67 L157.20,261.63" fill="none" stroke="#222" stroke-width="0.9"/>
<path d="M157.5,259.6 L162,261.2 L157.5,263.4 z" fill="#111"/>
<path d="M118.80,271.10 L119.20,270.60 L119.60,270.11 L120.00,269.67 L120.40,269.29 L120.80,268.98 L121.20,268.76 L121.60,268.63 L122.00,268.60 L122.40,268.68 L122.80,268.86 L123.20,269.12 L123.60,269.47 L124.00,269.89 L124.40,270.35 L124.80,270.85 L125.20,271.35 L125.60,271.85 L126.00,272.31 L126.40,272.73 L126.80,273.08 L127.20,273.34 L127.60,273.52 L128.00,273.60 L128.40,273.57 L128.80,273.44 L129.20,273.22 L129.60,272.91 L130.00,272.53 L130.40,272.09 L130.80,271.60 L131.20,271.10 L131.60,270.60 L132.00,270.11 L132.40,269.67 L132.80,269.29 L133.20,268.98 L133.60,268.76 L134.00,268.63 L134.40,268.60 L134.80,268.68 L135.20,268.86 L135.60,269.12 L136.00,269.47 L136.40,269.89 L136.80,270.35 L137.20,270.85 L137.60,271.35 L138.00,271.85 L138.40,272.31 L138.80,272.73 L139.20,273.08 L139.60,273.34 L140.00,273.52 L140.40,273.60 L140.80,273.57 L141.20,273.44 L141.60,273.22 L142.00,272.91 L142.40,272.53 L142.80,272.09 L143.20,271.60 L143.60,271.10 L144.00,270.60 L144.40,270.11 L144.80,269.67 L145.20,269.29 L145.60,268.98 L146.00,268.76 L146.40,268.71 L146.80,268.76 L147.20,268.91 L147.60,269.14 L148.00,269.44 L148.40,269.78 L148.80,270.16 L149.20,270.54 L149.60,270.92 L150.00,271.27 L150.40,271.58 L150.80,271.85 L151.20,272.05 L151.60,272.19 L152.00,272.27 L152.40,272.28 L152.80,272.24 L153.20,272.15 L153.60,272.02 L154.00,271.86 L154.40,271.69 L154.80,271.52 L155.20,271.36 L155.60,271.22 L156.00,271.10 L156.40,271.02 L156.80,270.97 L157.20,270.93" fill="none" stroke="#222" stroke-width="0.9"/>
<path d="M157.5,268.9 L162,270.5 L157.5,272.7 z" fill="#111"/>
<circle cx="161.8" cy="244.5" r="3.4" fill="url(#gE)" stroke="#8a1420" stroke-width="0.6"/>
<circle cx="171.2" cy="245.9" r="3.4" fill="url(#gE)" stroke="#8a1420" stroke-width="0.6"/>
<circle cx="62.8" cy="285.0" r="3.4" fill="url(#gH)" stroke="#2a2a5a" stroke-width="0.6"/>
<circle cx="73.4" cy="286.5" r="3.4" fill="url(#gH)" stroke="#2a2a5a" stroke-width="0.6"/>
<circle cx="14.5" cy="294.8" r="3.6" fill="url(#gE)" stroke="#8a1420" stroke-width="0.6"/>
<circle cx="14.5" cy="316.4" r="3.6" fill="url(#gH)" stroke="#2a2a5a" stroke-width="0.6"/>
<text x="23.1" y="296.9" font-size="9.5" text-anchor="start" fill="#231f20" >e</text>
<text x="23.7" y="319.7" font-size="9.5" text-anchor="start" fill="#231f20" >h</text>
<text x="9.4" y="230.0" font-size="10" text-anchor="start" fill="#231f20" >1 photon</text>
<path d="M13.40,250.72 L13.60,250.70 L13.80,250.68 L14.00,250.66 L14.20,250.63 L14.40,250.60 L14.60,250.59 L14.80,250.59 L15.00,250.61 L15.20,250.65 L15.40,250.72 L15.60,250.80 L15.80,250.88 L16.00,250.96 L16.20,251.02 L16.40,251.04 L16.60,251.00 L16.80,250.91 L17.00,250.75 L17.20,250.54 L17.40,250.31 L17.60,250.08 L17.80,249.90 L18.00,249.81 L18.20,249.85 L18.40,250.03 L18.60,250.37 L18.80,250.82 L19.00,251.36 L19.20,251.90 L19.40,252.37 L19.60,252.65 L19.80,252.69 L20.00,252.42 L20.20,251.83 L20.40,250.95 L20.60,249.89 L20.80,248.77 L21.00,247.77 L21.20,247.05 L21.40,246.79 L21.60,247.07 L21.80,247.95 L22.00,249.37 L22.20,251.18 L22.40,253.15 L22.60,255.01 L22.80,256.45 L23.00,257.21 L23.20,257.09 L23.40,256.02 L23.60,254.07 L23.80,251.43 L24.00,248.44 L24.20,245.51 L24.40,243.08 L24.60,241.55 L24.80,241.22 L25.00,242.22 L25.20,244.50 L25.40,247.80 L25.60,251.70 L25.80,255.67 L26.00,259.13 L26.20,261.57 L26.40,262.57 L26.60,261.96 L26.80,259.75 L27.00,256.23 L27.20,251.86 L27.40,247.24 L27.60,243.04 L27.80,239.84 L28.00,238.12 L28.20,238.12 L28.40,239.84 L28.60,243.04 L28.80,247.24 L29.00,251.86 L29.20,256.23 L29.40,259.75 L29.60,261.96 L29.80,262.57 L30.00,261.57 L30.20,259.13 L30.40,255.67 L30.60,251.70 L30.80,247.80 L31.00,244.50 L31.20,242.22 L31.40,241.22 L31.60,241.55 L31.80,243.08 L32.00,245.51 L32.20,248.44 L32.40,251.43 L32.60,254.07 L32.80,256.02 L33.00,257.09 L33.20,257.21 L33.40,256.45 L33.60,255.01 L33.80,253.15 L34.00,251.18 L34.20,249.37 L34.40,247.95 L34.60,247.07 L34.80,246.79 L35.00,247.05 L35.20,247.77 L35.40,248.77 L35.60,249.89 L35.80,250.95 L36.00,251.83 L36.20,252.42 L36.40,252.69 L36.60,252.65 L36.80,252.37 L37.00,251.90 L37.20,251.36 L37.40,250.82 L37.60,250.37 L37.80,250.03 L38.00,249.85 L38.20,249.81 L38.40,249.90 L38.60,250.08 L38.80,250.31 L39.00,250.54 L39.20,250.75 L39.40,250.91 L39.60,251.00 L39.80,251.04 L40.00,251.02 L40.20,250.96 L40.40,250.88 L40.60,250.80 L40.80,250.72 L41.00,250.65 L41.20,250.61 L41.40,250.59 L41.60,250.59 L41.80,250.60 L42.00,250.63 L42.20,250.66 L42.40,250.68 L42.60,250.70 L42.80,250.72" fill="none" stroke="#7a52b4" stroke-width="1.1"/>
<path d="M42.5,248.8 L45.8,250.7 L42.5,252.6 z" fill="#7a52b4"/>
<text x="4.6" y="273.8" font-size="10.6" fill="#231f20"><tspan font-family="Liberation Serif, serif" font-style="italic" font-size="11.5">hν</tspan> ≥ 2<tspan font-style="italic">E</tspan><tspan font-size="7.2" dy="3.4">g(type-II)</tspan></text>
<text x="55" y="335.9" font-size="10" font-weight="bold" fill="#3a48a8">K<tspan font-size="7" dy="2">WSe</tspan><tspan font-size="5" dy="1">2</tspan></text>
<text x="154.6" y="331" font-size="10" font-weight="bold" fill="#d0404e">K<tspan font-size="7" dy="3.5">MoS</tspan><tspan font-size="5" dy="1">2</tspan></text>
<text x="116.4" y="331.0" font-size="11" fill="#8e8e8e" font-family="Liberation Serif, serif">Γ</text>
<polygon points="32,30.2 228,30.2 228,37.2 32,37.2" fill="#6254ba"/>
<polygon points="32,45.0 228,45.0 228,51.8 32,51.8" fill="#4a8ed0"/>
<line x1="30.50" y1="31.00" x2="33.00" y2="36.40" stroke="#5a4ab6" stroke-width="4.2" stroke-linecap="round"/>
<line x1="30.10" y1="29.90" x2="32.60" y2="35.30" stroke="#9a8cdc" stroke-width="1.2" stroke-linecap="round"/>
<line x1="38.21" y1="31.00" x2="41.90" y2="36.40" stroke="#5a4ab6" stroke-width="4.2" stroke-linecap="round"/>
<line x1="37.81" y1="29.90" x2="41.50" y2="35.30" stroke="#9a8cdc" stroke-width="1.2" stroke-linecap="round"/>
<line x1="47.61" y1="31.00" x2="50.80" y2="36.40" stroke="#5a4ab6" stroke-width="4.2" stroke-linecap="round"/>
<line x1="47.21" y1="29.90" x2="50.40" y2="35.30" stroke="#9a8cdc" stroke-width="1.2" stroke-linecap="round"/>
<line x1="57.01" y1="31.00" x2="59.70" y2="36.40" stroke="#5a4ab6" stroke-width="4.2" stroke-linecap="round"/>
<line x1="56.61" y1="29.90" x2="59.30" y2="35.30" stroke="#9a8cdc" stroke-width="1.2" stroke-linecap="round"/>
<line x1="66.50" y1="31.00" x2="68.60" y2="36.40" stroke="#5a4ab6" stroke-width="4.2" stroke-linecap="round"/>
<line x1="66.10" y1="29.90" x2="68.20" y2="35.30" stroke="#9a8cdc" stroke-width="1.2" stroke-linecap="round"/>
<line x1="76.04" y1="31.00" x2="77.50" y2="36.40" stroke="#5a4ab6" stroke-width="4.2" stroke-linecap="round"/>
<line x1="75.64" y1="29.90" x2="77.10" y2="35.30" stroke="#9a8cdc" stroke-width="1.2" stroke-linecap="round"/>
<line x1="85.57" y1="31.00" x2="86.40" y2="36.40" stroke="#5a4ab6" stroke-width="4.2" stroke-linecap="round"/>
<line x1="85.17" y1="29.90" x2="86.00" y2="35.30" stroke="#9a8cdc" stroke-width="1.2" stroke-linecap="round"/>
<line x1="95.11" y1="31.00" x2="95.30" y2="36.40" stroke="#5a4ab6" stroke-width="4.2" stroke-linecap="round"/>
<line x1="94.71" y1="29.90" x2="94.90" y2="35.30" stroke="#9a8cdc" stroke-width="1.2" stroke-linecap="round"/>
<line x1="104.45" y1="31.00" x2="104.20" y2="36.40" stroke="#5a4ab6" stroke-width="4.2" stroke-linecap="round"/>
<line x1="104.05" y1="29.90" x2="103.80" y2="35.30" stroke="#9a8cdc" stroke-width="1.2" stroke-linecap="round"/>
<line x1="113.72" y1="31.00" x2="113.10" y2="36.40" stroke="#5a4ab6" stroke-width="4.2" stroke-linecap="round"/>
<line x1="113.32" y1="29.90" x2="112.70" y2="35.30" stroke="#9a8cdc" stroke-width="1.2" stroke-linecap="round"/>
<line x1="122.98" y1="31.00" x2="122.00" y2="36.40" stroke="#5a4ab6" stroke-width="4.2" stroke-linecap="round"/>
<line x1="122.58" y1="29.90" x2="121.60" y2="35.30" stroke="#9a8cdc" stroke-width="1.2" stroke-linecap="round"/>
<line x1="132.25" y1="31.00" x2="130.90" y2="36.40" stroke="#5a4ab6" stroke-width="4.2" stroke-linecap="round"/>
<line x1="131.85" y1="29.90" x2="130.50" y2="35.30" stroke="#9a8cdc" stroke-width="1.2" stroke-linecap="round"/>
<line x1="141.51" y1="31.00" x2="139.80" y2="36.40" stroke="#5a4ab6" stroke-width="4.2" stroke-linecap="round"/>
<line x1="141.11" y1="29.90" x2="139.40" y2="35.30" stroke="#9a8cdc" stroke-width="1.2" stroke-linecap="round"/>
<line x1="150.77" y1="31.00" x2="148.70" y2="36.40" stroke="#5a4ab6" stroke-width="4.2" stroke-linecap="round"/>
<line x1="150.37" y1="29.90" x2="148.30" y2="35.30" stroke="#9a8cdc" stroke-width="1.2" stroke-linecap="round"/>
<line x1="159.97" y1="31.00" x2="157.60" y2="36.40" stroke="#5a4ab6" stroke-width="4.2" stroke-linecap="round"/>
<line x1="159.57" y1="29.90" x2="157.20" y2="35.30" stroke="#9a8cdc" stroke-width="1.2" stroke-linecap="round"/>
<line x1="169.10" y1="31.00" x2="166.50" y2="36.40" stroke="#5a4ab6" stroke-width="4.2" stroke-linecap="round"/>
<line x1="168.70" y1="29.90" x2="166.10" y2="35.30" stroke="#9a8cdc" stroke-width="1.2" stroke-linecap="round"/>
<line x1="178.24" y1="31.00" x2="175.40" y2="36.40" stroke="#5a4ab6" stroke-width="4.2" stroke-linecap="round"/>
<line x1="177.84" y1="29.90" x2="175.00" y2="35.30" stroke="#9a8cdc" stroke-width="1.2" stroke-linecap="round"/>
<line x1="187.37" y1="31.00" x2="184.30" y2="36.40" stroke="#5a4ab6" stroke-width="4.2" stroke-linecap="round"/>
<line x1="186.97" y1="29.90" x2="183.90" y2="35.30" stroke="#9a8cdc" stroke-width="1.2" stroke-linecap="round"/>
<line x1="196.50" y1="31.00" x2="193.20" y2="36.40" stroke="#5a4ab6" stroke-width="4.2" stroke-linecap="round"/>
<line x1="196.10" y1="29.90" x2="192.80" y2="35.30" stroke="#9a8cdc" stroke-width="1.2" stroke-linecap="round"/>
<line x1="205.64" y1="31.00" x2="202.10" y2="36.40" stroke="#5a4ab6" stroke-width="4.2" stroke-linecap="round"/>
<line x1="205.24" y1="29.90" x2="201.70" y2="35.30" stroke="#9a8cdc" stroke-width="1.2" stroke-linecap="round"/>
<line x1="214.77" y1="31.00" x2="211.00" y2="36.40" stroke="#5a4ab6" stroke-width="4.2" stroke-linecap="round"/>
<line x1="214.37" y1="29.90" x2="210.60" y2="35.30" stroke="#9a8cdc" stroke-width="1.2" stroke-linecap="round"/>
<line x1="223.90" y1="31.00" x2="219.90" y2="36.40" stroke="#5a4ab6" stroke-width="4.2" stroke-linecap="round"/>
<line x1="223.50" y1="29.90" x2="219.50" y2="35.30" stroke="#9a8cdc" stroke-width="1.2" stroke-linecap="round"/>
<line x1="230.50" y1="31.00" x2="228.80" y2="36.40" stroke="#5a4ab6" stroke-width="4.2" stroke-linecap="round"/>
<line x1="230.10" y1="29.90" x2="228.40" y2="35.30" stroke="#9a8cdc" stroke-width="1.2" stroke-linecap="round"/>
<line x1="30.50" y1="45.80" x2="33.00" y2="51.20" stroke="#3c86cc" stroke-width="4.2" stroke-linecap="round"/>
<line x1="30.10" y1="44.70" x2="32.60" y2="50.10" stroke="#98c8f0" stroke-width="1.2" stroke-linecap="round"/>
<line x1="38.21" y1="45.80" x2="41.90" y2="51.20" stroke="#3c86cc" stroke-width="4.2" stroke-linecap="round"/>
<line x1="37.81" y1="44.70" x2="41.50" y2="50.10" stroke="#98c8f0" stroke-width="1.2" stroke-linecap="round"/>
<line x1="47.61" y1="45.80" x2="50.80" y2="51.20" stroke="#3c86cc" stroke-width="4.2" stroke-linecap="round"/>
<line x1="47.21" y1="44.70" x2="50.40" y2="50.10" stroke="#98c8f0" stroke-width="1.2" stroke-linecap="round"/>
<line x1="57.01" y1="45.80" x2="59.70" y2="51.20" stroke="#3c86cc" stroke-width="4.2" stroke-linecap="round"/>
<line x1="56.61" y1="44.70" x2="59.30" y2="50.10" stroke="#98c8f0" stroke-width="1.2" stroke-linecap="round"/>
<line x1="66.50" y1="45.80" x2="68.60" y2="51.20" stroke="#3c86cc" stroke-width="4.2" stroke-linecap="round"/>
<line x1="66.10" y1="44.70" x2="68.20" y2="50.10" stroke="#98c8f0" stroke-width="1.2" stroke-linecap="round"/>
<line x1="76.04" y1="45.80" x2="77.50" y2="51.20" stroke="#3c86cc" stroke-width="4.2" stroke-linecap="round"/>
<line x1="75.64" y1="44.70" x2="77.10" y2="50.10" stroke="#98c8f0" stroke-width="1.2" stroke-linecap="round"/>
<line x1="85.57" y1="45.80" x2="86.40" y2="51.20" stroke="#3c86cc" stroke-width="4.2" stroke-linecap="round"/>
<line x1="85.17" y1="44.70" x2="86.00" y2="50.10" stroke="#98c8f0" stroke-width="1.2" stroke-linecap="round"/>
<line x1="95.11" y1="45.80" x2="95.30" y2="51.20" stroke="#3c86cc" stroke-width="4.2" stroke-linecap="round"/>
<line x1="94.71" y1="44.70" x2="94.90" y2="50.10" stroke="#98c8f0" stroke-width="1.2" stroke-linecap="round"/>
<line x1="104.45" y1="45.80" x2="104.20" y2="51.20" stroke="#3c86cc" stroke-width="4.2" stroke-linecap="round"/>
<line x1="104.05" y1="44.70" x2="103.80" y2="50.10" stroke="#98c8f0" stroke-width="1.2" stroke-linecap="round"/>
<line x1="113.72" y1="45.80" x2="113.10" y2="51.20" stroke="#3c86cc" stroke-width="4.2" stroke-linecap="round"/>
<line x1="113.32" y1="44.70" x2="112.70" y2="50.10" stroke="#98c8f0" stroke-width="1.2" stroke-linecap="round"/>
<line x1="122.98" y1="45.80" x2="122.00" y2="51.20" stroke="#3c86cc" stroke-width="4.2" stroke-linecap="round"/>
<line x1="122.58" y1="44.70" x2="121.60" y2="50.10" stroke="#98c8f0" stroke-width="1.2" stroke-linecap="round"/>
<line x1="132.25" y1="45.80" x2="130.90" y2="51.20" stroke="#3c86cc" stroke-width="4.2" stroke-linecap="round"/>
<line x1="131.85" y1="44.70" x2="130.50" y2="50.10" stroke="#98c8f0" stroke-width="1.2" stroke-linecap="round"/>
<line x1="141.51" y1="45.80" x2="139.80" y2="51.20" stroke="#3c86cc" stroke-width="4.2" stroke-linecap="round"/>
<line x1="141.11" y1="44.70" x2="139.40" y2="50.10" stroke="#98c8f0" stroke-width="1.2" stroke-linecap="round"/>
<line x1="150.77" y1="45.80" x2="148.70" y2="51.20" stroke="#3c86cc" stroke-width="4.2" stroke-linecap="round"/>
<line x1="150.37" y1="44.70" x2="148.30" y2="50.10" stroke="#98c8f0" stroke-width="1.2" stroke-linecap="round"/>
<line x1="159.97" y1="45.80" x2="157.60" y2="51.20" stroke="#3c86cc" stroke-width="4.2" stroke-linecap="round"/>
<line x1="159.57" y1="44.70" x2="157.20" y2="50.10" stroke="#98c8f0" stroke-width="1.2" stroke-linecap="round"/>
<line x1="169.10" y1="45.80" x2="166.50" y2="51.20" stroke="#3c86cc" stroke-width="4.2" stroke-linecap="round"/>
<line x1="168.70" y1="44.70" x2="166.10" y2="50.10" stroke="#98c8f0" stroke-width="1.2" stroke-linecap="round"/>
<line x1="178.24" y1="45.80" x2="175.40" y2="51.20" stroke="#3c86cc" stroke-width="4.2" stroke-linecap="round"/>
<line x1="177.84" y1="44.70" x2="175.00" y2="50.10" stroke="#98c8f0" stroke-width="1.2" stroke-linecap="round"/>
<line x1="187.37" y1="45.80" x2="184.30" y2="51.20" stroke="#3c86cc" stroke-width="4.2" stroke-linecap="round"/>
<line x1="186.97" y1="44.70" x2="183.90" y2="50.10" stroke="#98c8f0" stroke-width="1.2" stroke-linecap="round"/>
<line x1="196.50" y1="45.80" x2="193.20" y2="51.20" stroke="#3c86cc" stroke-width="4.2" stroke-linecap="round"/>
<line x1="196.10" y1="44.70" x2="192.80" y2="50.10" stroke="#98c8f0" stroke-width="1.2" stroke-linecap="round"/>
<line x1="205.64" y1="45.80" x2="202.10" y2="51.20" stroke="#3c86cc" stroke-width="4.2" stroke-linecap="round"/>
<line x1="205.24" y1="44.70" x2="201.70" y2="50.10" stroke="#98c8f0" stroke-width="1.2" stroke-linecap="round"/>
<line x1="214.77" y1="45.80" x2="211.00" y2="51.20" stroke="#3c86cc" stroke-width="4.2" stroke-linecap="round"/>
<line x1="214.37" y1="44.70" x2="210.60" y2="50.10" stroke="#98c8f0" stroke-width="1.2" stroke-linecap="round"/>
<line x1="223.90" y1="45.80" x2="219.90" y2="51.20" stroke="#3c86cc" stroke-width="4.2" stroke-linecap="round"/>
<line x1="223.50" y1="44.70" x2="219.50" y2="50.10" stroke="#98c8f0" stroke-width="1.2" stroke-linecap="round"/>
<line x1="230.50" y1="45.80" x2="228.80" y2="51.20" stroke="#3c86cc" stroke-width="4.2" stroke-linecap="round"/>
<line x1="230.10" y1="44.70" x2="228.40" y2="50.10" stroke="#98c8f0" stroke-width="1.2" stroke-linecap="round"/>
<line x1="35.86" y1="36.40" x2="30.50" y2="40.00" stroke="#e8a640" stroke-width="3.7" stroke-linecap="round"/>
<line x1="35.46" y1="35.30" x2="30.10" y2="38.90" stroke="#fadc9c" stroke-width="1.2" stroke-linecap="round"/>
<line x1="44.06" y1="36.40" x2="38.90" y2="40.00" stroke="#e8a640" stroke-width="3.7" stroke-linecap="round"/>
<line x1="43.66" y1="35.30" x2="38.50" y2="38.90" stroke="#fadc9c" stroke-width="1.2" stroke-linecap="round"/>
<line x1="52.26" y1="36.40" x2="47.80" y2="40.00" stroke="#e8a640" stroke-width="3.7" stroke-linecap="round"/>
<line x1="51.86" y1="35.30" x2="47.40" y2="38.90" stroke="#fadc9c" stroke-width="1.2" stroke-linecap="round"/>
<line x1="60.46" y1="36.40" x2="56.70" y2="40.00" stroke="#e8a640" stroke-width="3.7" stroke-linecap="round"/>
<line x1="60.06" y1="35.30" x2="56.30" y2="38.90" stroke="#fadc9c" stroke-width="1.2" stroke-linecap="round"/>
<line x1="68.54" y1="36.40" x2="65.60" y2="40.00" stroke="#e8a640" stroke-width="3.7" stroke-linecap="round"/>
<line x1="68.14" y1="35.30" x2="65.20" y2="38.90" stroke="#fadc9c" stroke-width="1.2" stroke-linecap="round"/>
<line x1="76.55" y1="36.40" x2="74.50" y2="40.00" stroke="#e8a640" stroke-width="3.7" stroke-linecap="round"/>
<line x1="76.15" y1="35.30" x2="74.10" y2="38.90" stroke="#fadc9c" stroke-width="1.2" stroke-linecap="round"/>
<line x1="84.56" y1="36.40" x2="83.40" y2="40.00" stroke="#e8a640" stroke-width="3.7" stroke-linecap="round"/>
<line x1="84.16" y1="35.30" x2="83.00" y2="38.90" stroke="#fadc9c" stroke-width="1.2" stroke-linecap="round"/>
<line x1="92.57" y1="36.40" x2="92.30" y2="40.00" stroke="#e8a640" stroke-width="3.7" stroke-linecap="round"/>
<line x1="92.17" y1="35.30" x2="91.90" y2="38.90" stroke="#fadc9c" stroke-width="1.2" stroke-linecap="round"/>
<line x1="100.84" y1="36.40" x2="101.20" y2="40.00" stroke="#e8a640" stroke-width="3.7" stroke-linecap="round"/>
<line x1="100.44" y1="35.30" x2="100.80" y2="38.90" stroke="#fadc9c" stroke-width="1.2" stroke-linecap="round"/>
<line x1="109.24" y1="36.40" x2="110.10" y2="40.00" stroke="#e8a640" stroke-width="3.7" stroke-linecap="round"/>
<line x1="108.84" y1="35.30" x2="109.70" y2="38.90" stroke="#fadc9c" stroke-width="1.2" stroke-linecap="round"/>
<line x1="117.63" y1="36.40" x2="119.00" y2="40.00" stroke="#e8a640" stroke-width="3.7" stroke-linecap="round"/>
<line x1="117.23" y1="35.30" x2="118.60" y2="38.90" stroke="#fadc9c" stroke-width="1.2" stroke-linecap="round"/>
<line x1="126.02" y1="36.40" x2="127.90" y2="40.00" stroke="#e8a640" stroke-width="3.7" stroke-linecap="round"/>
<line x1="125.62" y1="35.30" x2="127.50" y2="38.90" stroke="#fadc9c" stroke-width="1.2" stroke-linecap="round"/>
<line x1="134.41" y1="36.40" x2="136.80" y2="40.00" stroke="#e8a640" stroke-width="3.7" stroke-linecap="round"/>
<line x1="134.01" y1="35.30" x2="136.40" y2="38.90" stroke="#fadc9c" stroke-width="1.2" stroke-linecap="round"/>
<line x1="142.80" y1="36.40" x2="145.70" y2="40.00" stroke="#e8a640" stroke-width="3.7" stroke-linecap="round"/>
<line x1="142.40" y1="35.30" x2="145.30" y2="38.90" stroke="#fadc9c" stroke-width="1.2" stroke-linecap="round"/>
<line x1="151.28" y1="36.40" x2="154.60" y2="40.00" stroke="#e8a640" stroke-width="3.7" stroke-linecap="round"/>
<line x1="150.88" y1="35.30" x2="154.20" y2="38.90" stroke="#fadc9c" stroke-width="1.2" stroke-linecap="round"/>
<line x1="159.85" y1="36.40" x2="163.50" y2="40.00" stroke="#e8a640" stroke-width="3.7" stroke-linecap="round"/>
<line x1="159.45" y1="35.30" x2="163.10" y2="38.90" stroke="#fadc9c" stroke-width="1.2" stroke-linecap="round"/>
<line x1="168.43" y1="36.40" x2="172.40" y2="40.00" stroke="#e8a640" stroke-width="3.7" stroke-linecap="round"/>
<line x1="168.03" y1="35.30" x2="172.00" y2="38.90" stroke="#fadc9c" stroke-width="1.2" stroke-linecap="round"/>
<line x1="177.00" y1="36.40" x2="181.30" y2="40.00" stroke="#e8a640" stroke-width="3.7" stroke-linecap="round"/>
<line x1="176.60" y1="35.30" x2="180.90" y2="38.90" stroke="#fadc9c" stroke-width="1.2" stroke-linecap="round"/>
<line x1="185.57" y1="36.40" x2="190.20" y2="40.00" stroke="#e8a640" stroke-width="3.7" stroke-linecap="round"/>
<line x1="185.17" y1="35.30" x2="189.80" y2="38.90" stroke="#fadc9c" stroke-width="1.2" stroke-linecap="round"/>
<line x1="194.15" y1="36.40" x2="199.10" y2="40.00" stroke="#e8a640" stroke-width="3.7" stroke-linecap="round"/>
<line x1="193.75" y1="35.30" x2="198.70" y2="38.90" stroke="#fadc9c" stroke-width="1.2" stroke-linecap="round"/>
<line x1="202.72" y1="36.40" x2="208.00" y2="40.00" stroke="#e8a640" stroke-width="3.7" stroke-linecap="round"/>
<line x1="202.32" y1="35.30" x2="207.60" y2="38.90" stroke="#fadc9c" stroke-width="1.2" stroke-linecap="round"/>
<line x1="211.29" y1="36.40" x2="216.90" y2="40.00" stroke="#e8a640" stroke-width="3.7" stroke-linecap="round"/>
<line x1="210.89" y1="35.30" x2="216.50" y2="38.90" stroke="#fadc9c" stroke-width="1.2" stroke-linecap="round"/>
<line x1="219.87" y1="36.40" x2="225.80" y2="40.00" stroke="#e8a640" stroke-width="3.7" stroke-linecap="round"/>
<line x1="219.47" y1="35.30" x2="225.40" y2="38.90" stroke="#fadc9c" stroke-width="1.2" stroke-linecap="round"/>
<line x1="35.86" y1="51.20" x2="30.50" y2="54.80" stroke="#84ba2c" stroke-width="3.7" stroke-linecap="round"/>
<line x1="35.46" y1="50.10" x2="30.10" y2="53.70" stroke="#c8e680" stroke-width="1.2" stroke-linecap="round"/>
<line x1="44.06" y1="51.20" x2="38.90" y2="54.80" stroke="#84ba2c" stroke-width="3.7" stroke-linecap="round"/>
<line x1="43.66" y1="50.10" x2="38.50" y2="53.70" stroke="#c8e680" stroke-width="1.2" stroke-linecap="round"/>
<line x1="52.26" y1="51.20" x2="47.80" y2="54.80" stroke="#84ba2c" stroke-width="3.7" stroke-linecap="round"/>
<line x1="51.86" y1="50.10" x2="47.40" y2="53.70" stroke="#c8e680" stroke-width="1.2" stroke-linecap="round"/>
<line x1="60.46" y1="51.20" x2="56.70" y2="54.80" stroke="#84ba2c" stroke-width="3.7" stroke-linecap="round"/>
<line x1="60.06" y1="50.10" x2="56.30" y2="53.70" stroke="#c8e680" stroke-width="1.2" stroke-linecap="round"/>
<line x1="68.54" y1="51.20" x2="65.60" y2="54.80" stroke="#84ba2c" stroke-width="3.7" stroke-linecap="round"/>
<line x1="68.14" y1="50.10" x2="65.20" y2="53.70" stroke="#c8e680" stroke-width="1.2" stroke-linecap="round"/>
<line x1="76.55" y1="51.20" x2="74.50" y2="54.80" stroke="#84ba2c" stroke-width="3.7" stroke-linecap="round"/>
<line x1="76.15" y1="50.10" x2="74.10" y2="53.70" stroke="#c8e680" stroke-width="1.2" stroke-linecap="round"/>
<line x1="84.56" y1="51.20" x2="83.40" y2="54.80" stroke="#84ba2c" stroke-width="3.7" stroke-linecap="round"/>
<line x1="84.16" y1="50.10" x2="83.00" y2="53.70" stroke="#c8e680" stroke-width="1.2" stroke-linecap="round"/>
<line x1="92.57" y1="51.20" x2="92.30" y2="54.80" stroke="#84ba2c" stroke-width="3.7" stroke-linecap="round"/>
<line x1="92.17" y1="50.10" x2="91.90" y2="53.70" stroke="#c8e680" stroke-width="1.2" stroke-linecap="round"/>
<line x1="100.84" y1="51.20" x2="101.20" y2="54.80" stroke="#84ba2c" stroke-width="3.7" stroke-linecap="round"/>
<line x1="100.44" y1="50.10" x2="100.80" y2="53.70" stroke="#c8e680" stroke-width="1.2" stroke-linecap="round"/>
<line x1="109.24" y1="51.20" x2="110.10" y2="54.80" stroke="#84ba2c" stroke-width="3.7" stroke-linecap="round"/>
<line x1="108.84" y1="50.10" x2="109.70" y2="53.70" stroke="#c8e680" stroke-width="1.2" stroke-linecap="round"/>
<line x1="117.63" y1="51.20" x2="119.00" y2="54.80" stroke="#84ba2c" stroke-width="3.7" stroke-linecap="round"/>
<line x1="117.23" y1="50.10" x2="118.60" y2="53.70" stroke="#c8e680" stroke-width="1.2" stroke-linecap="round"/>
<line x1="126.02" y1="51.20" x2="127.90" y2="54.80" stroke="#84ba2c" stroke-width="3.7" stroke-linecap="round"/>
<line x1="125.62" y1="50.10" x2="127.50" y2="53.70" stroke="#c8e680" stroke-width="1.2" stroke-linecap="round"/>
<line x1="134.41" y1="51.20" x2="136.80" y2="54.80" stroke="#84ba2c" stroke-width="3.7" stroke-linecap="round"/>
<line x1="134.01" y1="50.10" x2="136.40" y2="53.70" stroke="#c8e680" stroke-width="1.2" stroke-linecap="round"/>
<line x1="142.80" y1="51.20" x2="145.70" y2="54.80" stroke="#84ba2c" stroke-width="3.7" stroke-linecap="round"/>
<line x1="142.40" y1="50.10" x2="145.30" y2="53.70" stroke="#c8e680" stroke-width="1.2" stroke-linecap="round"/>
<line x1="151.28" y1="51.20" x2="154.60" y2="54.80" stroke="#84ba2c" stroke-width="3.7" stroke-linecap="round"/>
<line x1="150.88" y1="50.10" x2="154.20" y2="53.70" stroke="#c8e680" stroke-width="1.2" stroke-linecap="round"/>
<line x1="159.85" y1="51.20" x2="163.50" y2="54.80" stroke="#84ba2c" stroke-width="3.7" stroke-linecap="round"/>
<line x1="159.45" y1="50.10" x2="163.10" y2="53.70" stroke="#c8e680" stroke-width="1.2" stroke-linecap="round"/>
<line x1="168.43" y1="51.20" x2="172.40" y2="54.80" stroke="#84ba2c" stroke-width="3.7" stroke-linecap="round"/>
<line x1="168.03" y1="50.10" x2="172.00" y2="53.70" stroke="#c8e680" stroke-width="1.2" stroke-linecap="round"/>
<line x1="177.00" y1="51.20" x2="181.30" y2="54.80" stroke="#84ba2c" stroke-width="3.7" stroke-linecap="round"/>
<line x1="176.60" y1="50.10" x2="180.90" y2="53.70" stroke="#c8e680" stroke-width="1.2" stroke-linecap="round"/>
<line x1="185.57" y1="51.20" x2="190.20" y2="54.80" stroke="#84ba2c" stroke-width="3.7" stroke-linecap="round"/>
<line x1="185.17" y1="50.10" x2="189.80" y2="53.70" stroke="#c8e680" stroke-width="1.2" stroke-linecap="round"/>
<line x1="194.15" y1="51.20" x2="199.10" y2="54.80" stroke="#84ba2c" stroke-width="3.7" stroke-linecap="round"/>
<line x1="193.75" y1="50.10" x2="198.70" y2="53.70" stroke="#c8e680" stroke-width="1.2" stroke-linecap="round"/>
<line x1="202.72" y1="51.20" x2="208.00" y2="54.80" stroke="#84ba2c" stroke-width="3.7" stroke-linecap="round"/>
<line x1="202.32" y1="50.10" x2="207.60" y2="53.70" stroke="#c8e680" stroke-width="1.2" stroke-linecap="round"/>
<line x1="211.29" y1="51.20" x2="216.90" y2="54.80" stroke="#84ba2c" stroke-width="3.7" stroke-linecap="round"/>
<line x1="210.89" y1="50.10" x2="216.50" y2="53.70" stroke="#c8e680" stroke-width="1.2" stroke-linecap="round"/>
<line x1="219.87" y1="51.20" x2="225.80" y2="54.80" stroke="#84ba2c" stroke-width="3.7" stroke-linecap="round"/>
<line x1="219.47" y1="50.10" x2="225.40" y2="53.70" stroke="#c8e680" stroke-width="1.2" stroke-linecap="round"/>
<line x1="37.54" y1="26.60" x2="30.50" y2="30.40" stroke="#e8a640" stroke-width="4.4" stroke-linecap="round"/>
<line x1="37.14" y1="25.50" x2="30.10" y2="29.30" stroke="#fadc9c" stroke-width="1.2" stroke-linecap="round"/>
<line x1="45.54" y1="26.60" x2="38.90" y2="30.40" stroke="#e8a640" stroke-width="4.4" stroke-linecap="round"/>
<line x1="45.14" y1="25.50" x2="38.50" y2="29.30" stroke="#fadc9c" stroke-width="1.2" stroke-linecap="round"/>
<line x1="53.54" y1="26.60" x2="47.80" y2="30.40" stroke="#e8a640" stroke-width="4.4" stroke-linecap="round"/>
<line x1="53.14" y1="25.50" x2="47.40" y2="29.30" stroke="#fadc9c" stroke-width="1.2" stroke-linecap="round"/>
<line x1="61.53" y1="26.60" x2="56.70" y2="30.40" stroke="#e8a640" stroke-width="4.4" stroke-linecap="round"/>
<line x1="61.13" y1="25.50" x2="56.30" y2="29.30" stroke="#fadc9c" stroke-width="1.2" stroke-linecap="round"/>
<line x1="69.38" y1="26.60" x2="65.60" y2="30.40" stroke="#e8a640" stroke-width="4.4" stroke-linecap="round"/>
<line x1="68.98" y1="25.50" x2="65.20" y2="29.30" stroke="#fadc9c" stroke-width="1.2" stroke-linecap="round"/>
<line x1="77.14" y1="26.60" x2="74.50" y2="30.40" stroke="#e8a640" stroke-width="4.4" stroke-linecap="round"/>
<line x1="76.74" y1="25.50" x2="74.10" y2="29.30" stroke="#fadc9c" stroke-width="1.2" stroke-linecap="round"/>
<line x1="84.89" y1="26.60" x2="83.40" y2="30.40" stroke="#e8a640" stroke-width="4.4" stroke-linecap="round"/>
<line x1="84.49" y1="25.50" x2="83.00" y2="29.30" stroke="#fadc9c" stroke-width="1.2" stroke-linecap="round"/>
<line x1="92.65" y1="26.60" x2="92.30" y2="30.40" stroke="#e8a640" stroke-width="4.4" stroke-linecap="round"/>
<line x1="92.25" y1="25.50" x2="91.90" y2="29.30" stroke="#fadc9c" stroke-width="1.2" stroke-linecap="round"/>
<line x1="100.74" y1="26.60" x2="101.20" y2="30.40" stroke="#e8a640" stroke-width="4.4" stroke-linecap="round"/>
<line x1="100.34" y1="25.50" x2="100.80" y2="29.30" stroke="#fadc9c" stroke-width="1.2" stroke-linecap="round"/>
<line x1="108.99" y1="26.60" x2="110.10" y2="30.40" stroke="#e8a640" stroke-width="4.4" stroke-linecap="round"/>
<line x1="108.59" y1="25.50" x2="109.70" y2="29.30" stroke="#fadc9c" stroke-width="1.2" stroke-linecap="round"/>
<line x1="117.23" y1="26.60" x2="119.00" y2="30.40" stroke="#e8a640" stroke-width="4.4" stroke-linecap="round"/>
<line x1="116.83" y1="25.50" x2="118.60" y2="29.30" stroke="#fadc9c" stroke-width="1.2" stroke-linecap="round"/>
<line x1="125.48" y1="26.60" x2="127.90" y2="30.40" stroke="#e8a640" stroke-width="4.4" stroke-linecap="round"/>
<line x1="125.08" y1="25.50" x2="127.50" y2="29.30" stroke="#fadc9c" stroke-width="1.2" stroke-linecap="round"/>
<line x1="133.72" y1="26.60" x2="136.80" y2="30.40" stroke="#e8a640" stroke-width="4.4" stroke-linecap="round"/>
<line x1="133.32" y1="25.50" x2="136.40" y2="29.30" stroke="#fadc9c" stroke-width="1.2" stroke-linecap="round"/>
<line x1="141.97" y1="26.60" x2="145.70" y2="30.40" stroke="#e8a640" stroke-width="4.4" stroke-linecap="round"/>
<line x1="141.57" y1="25.50" x2="145.30" y2="29.30" stroke="#fadc9c" stroke-width="1.2" stroke-linecap="round"/>
<line x1="150.33" y1="26.60" x2="154.60" y2="30.40" stroke="#e8a640" stroke-width="4.4" stroke-linecap="round"/>
<line x1="149.93" y1="25.50" x2="154.20" y2="29.30" stroke="#fadc9c" stroke-width="1.2" stroke-linecap="round"/>
<line x1="158.81" y1="26.60" x2="163.50" y2="30.40" stroke="#e8a640" stroke-width="4.4" stroke-linecap="round"/>
<line x1="158.41" y1="25.50" x2="163.10" y2="29.30" stroke="#fadc9c" stroke-width="1.2" stroke-linecap="round"/>
<line x1="167.29" y1="26.60" x2="172.40" y2="30.40" stroke="#e8a640" stroke-width="4.4" stroke-linecap="round"/>
<line x1="166.89" y1="25.50" x2="172.00" y2="29.30" stroke="#fadc9c" stroke-width="1.2" stroke-linecap="round"/>
<line x1="175.77" y1="26.60" x2="181.30" y2="30.40" stroke="#e8a640" stroke-width="4.4" stroke-linecap="round"/>
<line x1="175.37" y1="25.50" x2="180.90" y2="29.30" stroke="#fadc9c" stroke-width="1.2" stroke-linecap="round"/>
<line x1="184.25" y1="26.60" x2="190.20" y2="30.40" stroke="#e8a640" stroke-width="4.4" stroke-linecap="round"/>
<line x1="183.85" y1="25.50" x2="189.80" y2="29.30" stroke="#fadc9c" stroke-width="1.2" stroke-linecap="round"/>
<line x1="192.73" y1="26.60" x2="199.10" y2="30.40" stroke="#e8a640" stroke-width="4.4" stroke-linecap="round"/>
<line x1="192.33" y1="25.50" x2="198.70" y2="29.30" stroke="#fadc9c" stroke-width="1.2" stroke-linecap="round"/>
<line x1="201.21" y1="26.60" x2="208.00" y2="30.40" stroke="#e8a640" stroke-width="4.4" stroke-linecap="round"/>
<line x1="200.81" y1="25.50" x2="207.60" y2="29.30" stroke="#fadc9c" stroke-width="1.2" stroke-linecap="round"/>
<line x1="209.69" y1="26.60" x2="216.90" y2="30.40" stroke="#e8a640" stroke-width="4.4" stroke-linecap="round"/>
<line x1="209.29" y1="25.50" x2="216.50" y2="29.30" stroke="#fadc9c" stroke-width="1.2" stroke-linecap="round"/>
<line x1="218.17" y1="26.60" x2="225.80" y2="30.40" stroke="#e8a640" stroke-width="4.4" stroke-linecap="round"/>
<line x1="217.77" y1="25.50" x2="225.40" y2="29.30" stroke="#fadc9c" stroke-width="1.2" stroke-linecap="round"/>
<line x1="37.54" y1="41.40" x2="30.50" y2="45.20" stroke="#84ba2c" stroke-width="4.4" stroke-linecap="round"/>
<line x1="37.14" y1="40.30" x2="30.10" y2="44.10" stroke="#c8e680" stroke-width="1.2" stroke-linecap="round"/>
<line x1="45.54" y1="41.40" x2="38.90" y2="45.20" stroke="#84ba2c" stroke-width="4.4" stroke-linecap="round"/>
<line x1="45.14" y1="40.30" x2="38.50" y2="44.10" stroke="#c8e680" stroke-width="1.2" stroke-linecap="round"/>
<line x1="53.54" y1="41.40" x2="47.80" y2="45.20" stroke="#84ba2c" stroke-width="4.4" stroke-linecap="round"/>
<line x1="53.14" y1="40.30" x2="47.40" y2="44.10" stroke="#c8e680" stroke-width="1.2" stroke-linecap="round"/>
<line x1="61.53" y1="41.40" x2="56.70" y2="45.20" stroke="#84ba2c" stroke-width="4.4" stroke-linecap="round"/>
<line x1="61.13" y1="40.30" x2="56.30" y2="44.10" stroke="#c8e680" stroke-width="1.2" stroke-linecap="round"/>
<line x1="69.38" y1="41.40" x2="65.60" y2="45.20" stroke="#84ba2c" stroke-width="4.4" stroke-linecap="round"/>
<line x1="68.98" y1="40.30" x2="65.20" y2="44.10" stroke="#c8e680" stroke-width="1.2" stroke-linecap="round"/>
<line x1="77.14" y1="41.40" x2="74.50" y2="45.20" stroke="#84ba2c" stroke-width="4.4" stroke-linecap="round"/>
<line x1="76.74" y1="40.30" x2="74.10" y2="44.10" stroke="#c8e680" stroke-width="1.2" stroke-linecap="round"/>
<line x1="84.89" y1="41.40" x2="83.40" y2="45.20" stroke="#84ba2c" stroke-width="4.4" stroke-linecap="round"/>
<line x1="84.49" y1="40.30" x2="83.00" y2="44.10" stroke="#c8e680" stroke-width="1.2" stroke-linecap="round"/>
<line x1="92.65" y1="41.40" x2="92.30" y2="45.20" stroke="#84ba2c" stroke-width="4.4" stroke-linecap="round"/>
<line x1="92.25" y1="40.30" x2="91.90" y2="44.10" stroke="#c8e680" stroke-width="1.2" stroke-linecap="round"/>
<line x1="100.74" y1="41.40" x2="101.20" y2="45.20" stroke="#84ba2c" stroke-width="4.4" stroke-linecap="round"/>
<line x1="100.34" y1="40.30" x2="100.80" y2="44.10" stroke="#c8e680" stroke-width="1.2" stroke-linecap="round"/>
<line x1="108.99" y1="41.40" x2="110.10" y2="45.20" stroke="#84ba2c" stroke-width="4.4" stroke-linecap="round"/>
<line x1="108.59" y1="40.30" x2="109.70" y2="44.10" stroke="#c8e680" stroke-width="1.2" stroke-linecap="round"/>
<line x1="117.23" y1="41.40" x2="119.00" y2="45.20" stroke="#84ba2c" stroke-width="4.4" stroke-linecap="round"/>
<line x1="116.83" y1="40.30" x2="118.60" y2="44.10" stroke="#c8e680" stroke-width="1.2" stroke-linecap="round"/>
<line x1="125.48" y1="41.40" x2="127.90" y2="45.20" stroke="#84ba2c" stroke-width="4.4" stroke-linecap="round"/>
<line x1="125.08" y1="40.30" x2="127.50" y2="44.10" stroke="#c8e680" stroke-width="1.2" stroke-linecap="round"/>
<line x1="133.72" y1="41.40" x2="136.80" y2="45.20" stroke="#84ba2c" stroke-width="4.4" stroke-linecap="round"/>
<line x1="133.32" y1="40.30" x2="136.40" y2="44.10" stroke="#c8e680" stroke-width="1.2" stroke-linecap="round"/>
<line x1="141.97" y1="41.40" x2="145.70" y2="45.20" stroke="#84ba2c" stroke-width="4.4" stroke-linecap="round"/>
<line x1="141.57" y1="40.30" x2="145.30" y2="44.10" stroke="#c8e680" stroke-width="1.2" stroke-linecap="round"/>
<line x1="150.33" y1="41.40" x2="154.60" y2="45.20" stroke="#84ba2c" stroke-width="4.4" stroke-linecap="round"/>
<line x1="149.93" y1="40.30" x2="154.20" y2="44.10" stroke="#c8e680" stroke-width="1.2" stroke-linecap="round"/>
<line x1="158.81" y1="41.40" x2="163.50" y2="45.20" stroke="#84ba2c" stroke-width="4.4" stroke-linecap="round"/>
<line x1="158.41" y1="40.30" x2="163.10" y2="44.10" stroke="#c8e680" stroke-width="1.2" stroke-linecap="round"/>
<line x1="167.29" y1="41.40" x2="172.40" y2="45.20" stroke="#84ba2c" stroke-width="4.4" stroke-linecap="round"/>
<line x1="166.89" y1="40.30" x2="172.00" y2="44.10" stroke="#c8e680" stroke-width="1.2" stroke-linecap="round"/>
<line x1="175.77" y1="41.40" x2="181.30" y2="45.20" stroke="#84ba2c" stroke-width="4.4" stroke-linecap="round"/>
<line x1="175.37" y1="40.30" x2="180.90" y2="44.10" stroke="#c8e680" stroke-width="1.2" stroke-linecap="round"/>
<line x1="184.25" y1="41.40" x2="190.20" y2="45.20" stroke="#84ba2c" stroke-width="4.4" stroke-linecap="round"/>
<line x1="183.85" y1="40.30" x2="189.80" y2="44.10" stroke="#c8e680" stroke-width="1.2" stroke-linecap="round"/>
<line x1="192.73" y1="41.40" x2="199.10" y2="45.20" stroke="#84ba2c" stroke-width="4.4" stroke-linecap="round"/>
<line x1="192.33" y1="40.30" x2="198.70" y2="44.10" stroke="#c8e680" stroke-width="1.2" stroke-linecap="round"/>
<line x1="201.21" y1="41.40" x2="208.00" y2="45.20" stroke="#84ba2c" stroke-width="4.4" stroke-linecap="round"/>
<line x1="200.81" y1="40.30" x2="207.60" y2="44.10" stroke="#c8e680" stroke-width="1.2" stroke-linecap="round"/>
<line x1="209.69" y1="41.40" x2="216.90" y2="45.20" stroke="#84ba2c" stroke-width="4.4" stroke-linecap="round"/>
<line x1="209.29" y1="40.30" x2="216.50" y2="44.10" stroke="#c8e680" stroke-width="1.2" stroke-linecap="round"/>
<line x1="218.17" y1="41.40" x2="225.80" y2="45.20" stroke="#84ba2c" stroke-width="4.4" stroke-linecap="round"/>
<line x1="217.77" y1="40.30" x2="225.40" y2="44.10" stroke="#c8e680" stroke-width="1.2" stroke-linecap="round"/>
<circle cx="30.91" cy="33.6" r="0.8" fill="#d8d4f4" opacity="0.85"/>
<circle cx="30.91" cy="48.4" r="0.8" fill="#d4ecfc" opacity="0.85"/>
<circle cx="40.06" cy="33.6" r="0.8" fill="#d8d4f4" opacity="0.85"/>
<circle cx="40.06" cy="48.4" r="0.8" fill="#d4ecfc" opacity="0.85"/>
<circle cx="49.21" cy="33.6" r="0.8" fill="#d8d4f4" opacity="0.85"/>
<circle cx="49.21" cy="48.4" r="0.8" fill="#d4ecfc" opacity="0.85"/>
<circle cx="58.36" cy="33.6" r="0.8" fill="#d8d4f4" opacity="0.85"/>
<circle cx="58.36" cy="48.4" r="0.8" fill="#d4ecfc" opacity="0.85"/>
<circle cx="67.55" cy="33.6" r="0.8" fill="#d8d4f4" opacity="0.85"/>
<circle cx="67.55" cy="48.4" r="0.8" fill="#d4ecfc" opacity="0.85"/>
<circle cx="76.77" cy="33.6" r="0.8" fill="#d8d4f4" opacity="0.85"/>
<circle cx="76.77" cy="48.4" r="0.8" fill="#d4ecfc" opacity="0.85"/>
<circle cx="85.99" cy="33.6" r="0.8" fill="#d8d4f4" opacity="0.85"/>
<circle cx="85.99" cy="48.4" r="0.8" fill="#d4ecfc" opacity="0.85"/>
<circle cx="95.20" cy="33.6" r="0.8" fill="#d8d4f4" opacity="0.85"/>
<circle cx="95.20" cy="48.4" r="0.8" fill="#d4ecfc" opacity="0.85"/>
<circle cx="104.33" cy="33.6" r="0.8" fill="#d8d4f4" opacity="0.85"/>
<circle cx="104.33" cy="48.4" r="0.8" fill="#d4ecfc" opacity="0.85"/>
<circle cx="113.41" cy="33.6" r="0.8" fill="#d8d4f4" opacity="0.85"/>
<circle cx="113.41" cy="48.4" r="0.8" fill="#d4ecfc" opacity="0.85"/>
<circle cx="122.49" cy="33.6" r="0.8" fill="#d8d4f4" opacity="0.85"/>
<circle cx="122.49" cy="48.4" r="0.8" fill="#d4ecfc" opacity="0.85"/>
<circle cx="131.57" cy="33.6" r="0.8" fill="#d8d4f4" opacity="0.85"/>
<circle cx="131.57" cy="48.4" r="0.8" fill="#d4ecfc" opacity="0.85"/>
<circle cx="140.66" cy="33.6" r="0.8" fill="#d8d4f4" opacity="0.85"/>
<circle cx="140.66" cy="48.4" r="0.8" fill="#d4ecfc" opacity="0.85"/>
<circle cx="149.74" cy="33.6" r="0.8" fill="#d8d4f4" opacity="0.85"/>
<circle cx="149.74" cy="48.4" r="0.8" fill="#d4ecfc" opacity="0.85"/>
<circle cx="158.79" cy="33.6" r="0.8" fill="#d8d4f4" opacity="0.85"/>
<circle cx="158.79" cy="48.4" r="0.8" fill="#d4ecfc" opacity="0.85"/>
<circle cx="167.80" cy="33.6" r="0.8" fill="#d8d4f4" opacity="0.85"/>
<circle cx="167.80" cy="48.4" r="0.8" fill="#d4ecfc" opacity="0.85"/>
<circle cx="176.82" cy="33.6" r="0.8" fill="#d8d4f4" opacity="0.85"/>
<circle cx="176.82" cy="48.4" r="0.8" fill="#d4ecfc" opacity="0.85"/>
<circle cx="185.84" cy="33.6" r="0.8" fill="#d8d4f4" opacity="0.85"/>
<circle cx="185.84" cy="48.4" r="0.8" fill="#d4ecfc" opacity="0.85"/>
<circle cx="194.85" cy="33.6" r="0.8" fill="#d8d4f4" opacity="0.85"/>
<circle cx="194.85" cy="48.4" r="0.8" fill="#d4ecfc" opacity="0.85"/>
<circle cx="203.87" cy="33.6" r="0.8" fill="#d8d4f4" opacity="0.85"/>
<circle cx="203.87" cy="48.4" r="0.8" fill="#d4ecfc" opacity="0.85"/>
<circle cx="212.89" cy="33.6" r="0.8" fill="#d8d4f4" opacity="0.85"/>
<circle cx="212.89" cy="48.4" r="0.8" fill="#d4ecfc" opacity="0.85"/>
<circle cx="221.90" cy="33.6" r="0.8" fill="#d8d4f4" opacity="0.85"/>
<circle cx="221.90" cy="48.4" r="0.8" fill="#d4ecfc" opacity="0.85"/>
<circle cx="230.50" cy="33.6" r="0.8" fill="#d8d4f4" opacity="0.85"/>
<circle cx="230.50" cy="48.4" r="0.8" fill="#d4ecfc" opacity="0.85"/>
<ellipse cx="133.3" cy="39.8" rx="6.8" ry="12.6" fill="#e4ecf2" fill-opacity="0.9" stroke="#9aa0a6" stroke-width="0.8"/>
<circle cx="133.4" cy="33.7" r="4.1" fill="#e0202c"/>
<circle cx="133.4" cy="47.6" r="4.1" fill="#1aa0e0"/>
<line x1="131.3" y1="33.7" x2="135.5" y2="33.7" stroke="#111" stroke-width="1"/>
<line x1="131.3" y1="47.6" x2="135.5" y2="47.6" stroke="#111" stroke-width="1"/>
<line x1="133.4" y1="45.5" x2="133.4" y2="49.7" stroke="#111" stroke-width="1"/>
<text x="127.3" y="20.3" font-size="11" text-anchor="start" fill="#231f20" >IX</text>
<text x="0.8" y="35.3" font-size="10" fill="#231f20">MoS<tspan font-size="7" dy="2.2">2</tspan></text>
<text x="-0.3" y="52.8" font-size="10" fill="#231f20">WSe<tspan font-size="7" dy="2.2">2</tspan></text>
<g filter="url(#blurB)"><polygon points="35,112 120,100 225,112 225,168 35,168" fill="#f7f7f7"/></g>
<g filter="url(#blurS)"><polyline points="40,130 87,164.5 212,126" fill="none" stroke="#d4d4d4" stroke-width="3.5"/></g>
<polygon points="38,126.5 86,161 210,123 162,88.5" fill="url(#patB)"/>
<polygon points="44,119.5 150,77.5 210,106 98,152" fill="url(#patT)"/>
<polygon points="44,119.5 150,77.5 210,106 98,152" fill="url(#gTint)"/>
<polyline points="44,118.8 150,76.8 210.5,105.3" fill="none" stroke="#f2c462" stroke-width="1.8" stroke-dasharray="1.4 2.7"/>
<line x1="98.7" y1="152.5" x2="222.5" y2="101.9" stroke="#333" stroke-width="0.6" marker-end="url(#ah)"/>
<line x1="98.7" y1="152.5" x2="222.5" y2="119.5" stroke="#333" stroke-width="0.6" marker-end="url(#ah)"/>
<path d="M161.6,128.6 Q163.6,132 162.4,135.8" fill="none" stroke="#222" stroke-width="0.7"/>
<text x="164.2" y="133.4" font-size="10.5" font-style="italic" font-family="Liberation Serif, serif" fill="#111">θ</text>
</svg></body></html>
